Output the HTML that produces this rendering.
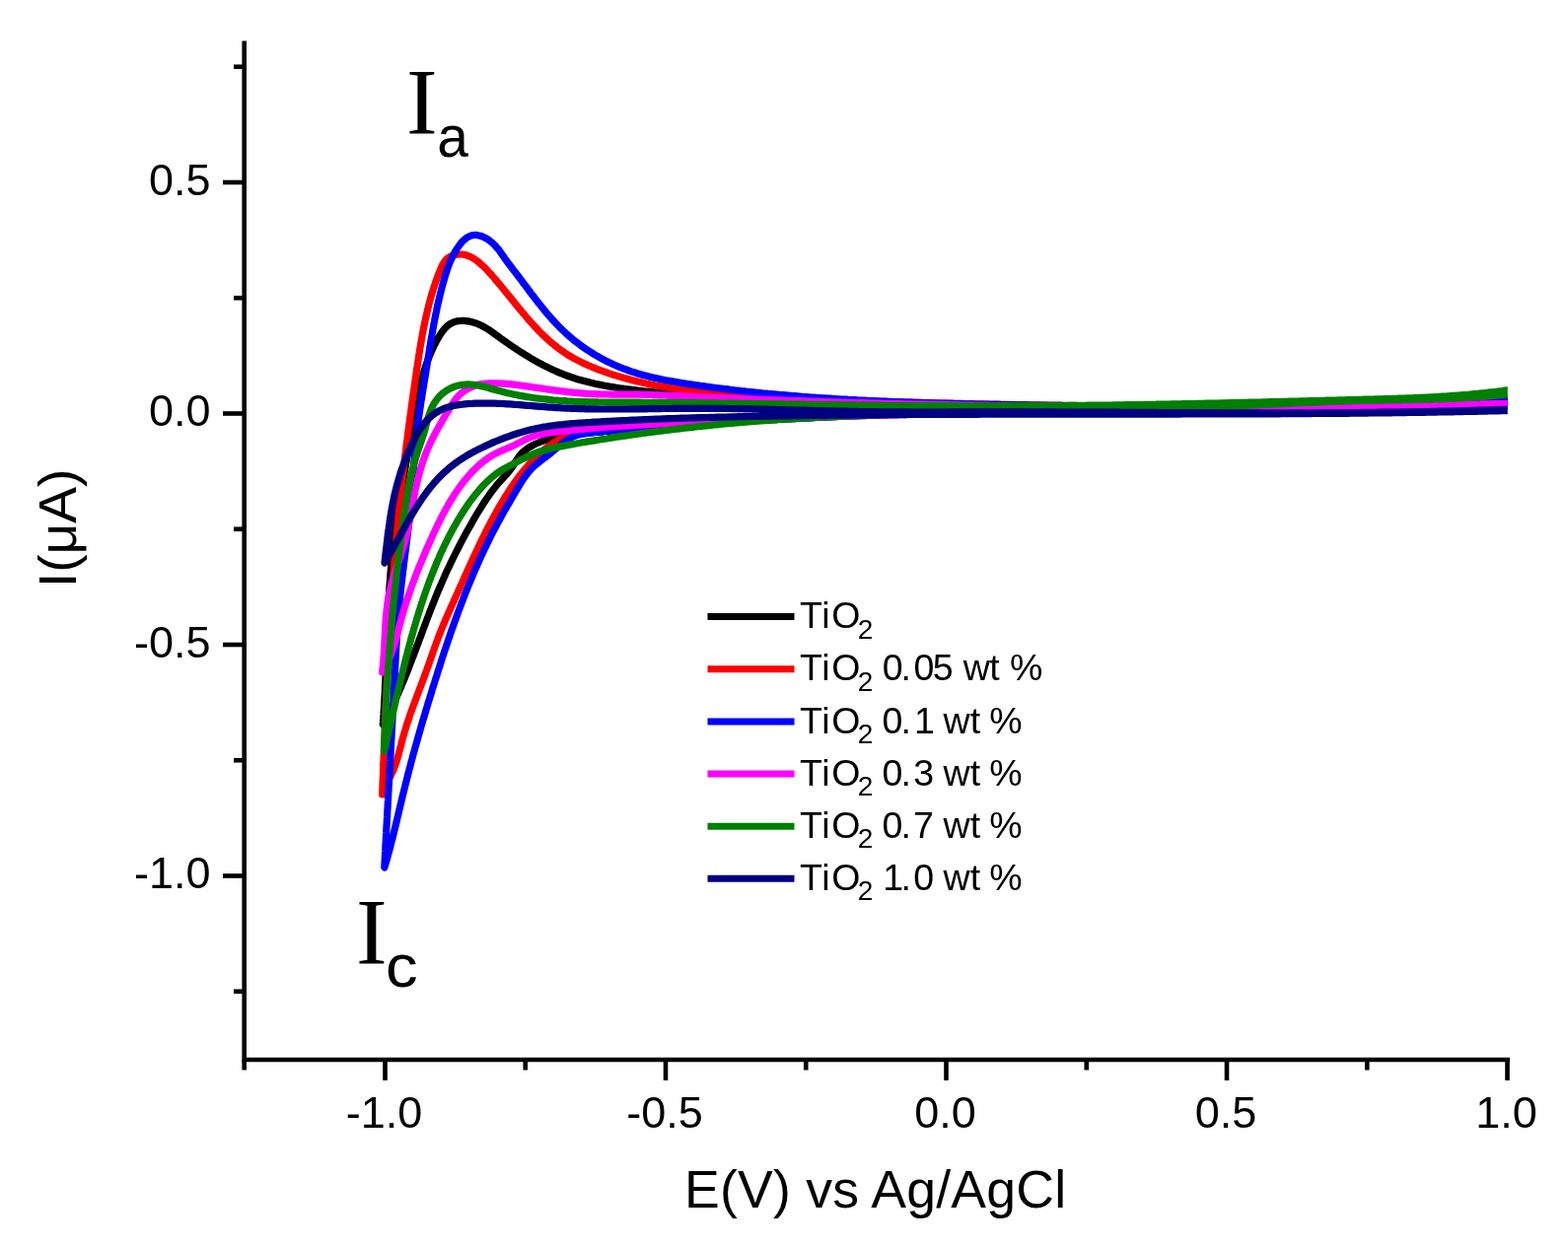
<!DOCTYPE html>
<html><head><meta charset="utf-8"><title>Cyclic voltammetry TiO2</title>
<style>
html,body{margin:0;padding:0;background:#fff;}
body{width:1590px;height:1266px;overflow:hidden;}
svg{display:block;}
text{font-family:"Liberation Sans",Arial,sans-serif;fill:#000;}
.tick text, .tl{font-size:45px;}
.leg{font-size:35.8px;}
.sub{font-size:26px;}
</style></head>
<body>
<svg width="1590" height="1266" viewBox="0 0 1590 1266">
<rect width="1590" height="1266" fill="#fff"/>
<defs><clipPath id="pc"><rect x="0" y="0" width="1528.8" height="1266"/></clipPath></defs>
<g fill="none" stroke-width="7.2" stroke-linejoin="round" stroke-linecap="round" clip-path="url(#pc)">
<path d="M388.2 735.0 L388.4 733.0 L388.5 731.0 L388.7 729.0 L388.8 727.0 L389.0 725.0 L389.1 722.9 L389.2 720.9 L389.4 718.9 L389.5 716.9 L389.6 714.9 L389.7 712.9 L389.8 710.9 L389.9 708.9 L390.0 706.9 L390.2 704.9 L390.3 702.8 L390.4 700.8 L390.4 698.8 L390.5 696.8 L390.6 694.8 L390.7 692.8 L390.8 690.8 L390.9 688.7 L391.0 686.7 L391.1 684.7 L391.1 682.7 L391.2 680.7 L391.3 678.7 L391.4 676.7 L391.4 674.6 L391.5 672.6 L391.6 670.6 L391.7 668.6 L391.7 666.6 L391.8 664.6 L391.9 662.6 L391.9 660.5 L392.0 658.5 L392.1 656.5 L392.1 654.5 L392.2 652.5 L392.3 650.5 L392.4 648.5 L392.4 646.4 L392.5 644.4 L392.6 642.4 L392.7 640.4 L392.7 638.4 L392.8 636.4 L392.9 634.4 L393.0 632.3 L393.1 630.3 L393.1 628.3 L393.2 626.3 L393.3 624.3 L393.4 622.3 L393.5 620.3 L393.6 618.3 L393.7 616.2 L393.8 614.2 L393.9 612.2 L394.0 610.2 L394.1 608.2 L394.2 606.2 L394.4 604.2 L394.5 602.2 L394.6 600.2 L394.7 598.2 L394.9 596.1 L395.0 594.1 L395.2 592.1 L395.3 590.1 L395.5 588.1 L395.6 586.1 L395.8 584.1 L395.9 582.1 L396.1 580.1 L396.3 578.1 L396.5 576.1 L396.7 574.1 L396.9 572.1 L397.1 570.1 L397.3 568.1 L397.5 566.1 L397.7 564.1 L397.9 562.1 L398.1 560.1 L398.4 558.1 L398.6 556.1 L398.8 554.1 L399.1 552.1 L399.3 550.1 L399.6 548.1 L399.8 546.1 L400.1 544.1 L400.4 542.1 L400.6 540.1 L400.9 538.1 L401.2 536.1 L401.5 534.1 L401.7 532.1 L402.0 530.1 L402.3 528.1 L402.6 526.1 L402.9 524.1 L403.2 522.1 L403.5 520.1 L403.8 518.1 L404.1 516.1 L404.4 514.1 L404.7 512.2 L405.1 510.2 L405.4 508.2 L405.7 506.2 L406.0 504.2 L406.3 502.2 L406.7 500.2 L407.0 498.2 L407.3 496.2 L407.6 494.2 L408.0 492.2 L408.3 490.3 L408.6 488.3 L409.0 486.3 L409.3 484.3 L409.6 482.3 L410.0 480.3 L410.3 478.3 L410.7 476.3 L411.0 474.3 L411.3 472.4 L411.7 470.4 L412.0 468.4 L412.3 466.4 L412.7 464.4 L413.0 462.4 L413.4 460.4 L413.7 458.4 L414.0 456.5 L414.4 454.5 L414.7 452.5 L415.0 450.5 L415.4 448.5 L415.7 446.5 L416.0 444.5 L416.4 442.6 L416.7 440.6 L417.0 438.6 L417.3 436.6 L417.7 434.6 L418.0 432.6 L418.3 430.6 L418.6 428.7 L419.0 426.7 L419.3 424.7 L419.6 422.7 L420.0 420.7 L420.3 418.7 L420.7 416.8 L421.0 414.8 L421.4 412.8 L421.7 410.8 L422.1 408.9 L422.5 406.9 L422.9 404.9 L423.3 403.0 L423.7 401.0 L424.1 399.1 L424.6 397.1 L425.0 395.1 L425.5 393.2 L425.9 391.2 L426.4 389.3 L426.9 387.4 L427.4 385.4 L427.9 383.5 L428.5 381.6 L429.0 379.6 L429.6 377.7 L430.2 375.8 L430.8 373.9 L431.5 372.0 L432.1 370.1 L432.8 368.2 L433.5 366.3 L434.2 364.4 L434.9 362.5 L435.7 360.6 L436.5 358.8 L437.3 356.9 L438.1 355.0 L438.9 353.2 L439.8 351.3 L440.7 349.5 L441.7 347.7 L442.6 345.9 L443.6 344.1 L444.7 342.3 L445.7 340.6 L446.8 338.9 L447.9 337.2 L449.1 335.6 L451.0 333.3 L453.0 331.2 L455.3 329.4 L457.7 327.9 L460.2 326.7 L463.0 325.9 L465.8 325.5 L468.8 325.3 L470.8 325.4 L472.8 325.6 L474.9 325.9 L476.9 326.3 L478.9 326.8 L481.0 327.4 L483.0 328.0 L484.9 328.8 L486.9 329.6 L488.7 330.5 L490.5 331.5 L492.3 332.5 L494.0 333.5 L495.7 334.6 L498.2 336.3 L500.6 338.0 L503.0 339.8 L505.4 341.5 L507.9 343.3 L509.5 344.5 L511.1 345.6 L512.8 346.8 L514.4 347.9 L516.1 349.1 L517.7 350.2 L519.4 351.4 L521.0 352.5 L522.7 353.6 L524.4 354.7 L526.1 355.8 L527.8 356.9 L529.5 358.0 L531.2 359.1 L532.9 360.1 L534.6 361.2 L536.4 362.2 L538.1 363.3 L539.9 364.3 L541.6 365.3 L543.4 366.3 L545.1 367.3 L546.9 368.3 L548.7 369.2 L550.5 370.2 L552.3 371.1 L554.1 372.0 L555.9 372.9 L557.7 373.8 L559.5 374.6 L561.3 375.5 L563.2 376.3 L565.0 377.1 L566.8 377.9 L568.7 378.7 L570.6 379.4 L572.4 380.1 L574.3 380.8 L576.2 381.5 L578.1 382.2 L580.0 382.8 L581.9 383.5 L583.8 384.1 L585.7 384.7 L587.6 385.2 L589.6 385.8 L591.5 386.3 L593.4 386.8 L595.4 387.3 L597.3 387.8 L599.3 388.3 L601.2 388.7 L603.2 389.2 L605.2 389.6 L607.1 390.0 L609.1 390.4 L611.1 390.8 L613.1 391.2 L615.1 391.5 L617.0 391.9 L619.0 392.2 L621.0 392.5 L623.0 392.9 L625.0 393.2 L627.0 393.5 L629.0 393.8 L631.0 394.0 L633.0 394.3 L635.0 394.6 L637.0 394.8 L639.0 395.1 L641.0 395.4 L643.0 395.6 L645.0 395.8 L647.0 396.1 L649.0 396.3 L651.1 396.5 L653.1 396.8 L655.1 397.0 L657.1 397.2 L659.1 397.4 L661.1 397.6 L663.1 397.8 L665.1 398.0 L667.1 398.2 L669.1 398.4 L671.1 398.6 L673.1 398.7 L675.1 398.9 L677.1 399.1 L679.1 399.3 L681.1 399.4 L683.2 399.6 L685.2 399.8 L687.2 399.9 L689.2 400.1 L691.2 400.2 L693.2 400.4 L695.2 400.5 L697.2 400.7 L699.2 400.8 L701.2 401.0 L703.2 401.1 L705.2 401.3 L707.3 401.4 L709.3 401.5 L711.3 401.7 L713.3 401.8 L715.3 401.9 L717.3 402.1 L719.3 402.2 L721.3 402.3 L723.3 402.5 L725.3 402.6 L727.3 402.7 L729.4 402.8 L731.4 403.0 L733.4 403.1 L735.4 403.2 L737.4 403.3 L739.4 403.5 L741.4 403.6 L743.4 403.7 L745.4 403.8 L747.4 403.9 L749.5 404.0 L751.5 404.2 L753.5 404.3 L755.5 404.4 L757.5 404.5 L759.5 404.6 L761.5 404.7 L763.5 404.8 L765.5 404.9 L767.5 405.0 L769.6 405.1 L771.6 405.2 L773.6 405.3 L775.6 405.4 L777.6 405.5 L779.6 405.6 L781.6 405.7 L783.6 405.8 L785.6 405.9 L787.7 406.0 L789.7 406.1 L791.7 406.2 L793.7 406.3 L795.7 406.4 L797.7 406.5 L799.7 406.5 L801.7 406.6 L803.8 406.7 L805.8 406.8 L807.8 406.9 L809.8 407.0 L811.8 407.1 L813.8 407.1 L815.8 407.2 L817.8 407.3 L819.9 407.4 L821.9 407.4 L823.9 407.5 L825.9 407.6 L827.9 407.7 L829.9 407.7 L831.9 407.8 L833.9 407.9 L836.0 408.0 L838.0 408.0 L840.0 408.1 L842.0 408.2 L844.0 408.2 L846.0 408.3 L848.0 408.4 L850.0 408.4 L852.1 408.5 L854.1 408.6 L856.1 408.6 L858.1 408.7 L860.1 408.7 L862.1 408.8 L864.1 408.9 L866.1 408.9 L868.2 409.0 L870.2 409.0 L872.2 409.1 L874.2 409.1 L876.2 409.2 L878.2 409.2 L880.2 409.3 L882.3 409.3 L884.3 409.4 L886.3 409.4 L888.3 409.5 L890.3 409.5 L892.3 409.6 L894.3 409.6 L896.4 409.7 L898.4 409.7 L900.4 409.8 L902.4 409.8 L904.4 409.9 L906.4 409.9 L908.4 409.9 L910.5 410.0 L912.5 410.0 L914.5 410.1 L916.5 410.1 L918.5 410.1 L920.5 410.2 L922.5 410.2 L924.6 410.3 L926.6 410.3 L928.6 410.3 L930.6 410.4 L932.6 410.4 L934.6 410.4 L936.6 410.5 L938.7 410.5 L940.7 410.5 L942.7 410.6 L944.7 410.6 L946.7 410.6 L948.7 410.7 L950.7 410.7 L952.8 410.7 L954.8 410.7 L956.8 410.8 L958.8 410.8 L960.8 410.8 L962.8 410.8 L964.9 410.9 L966.9 410.9 L968.9 410.9 L970.9 410.9 L972.9 411.0 L974.9 411.0 L976.9 411.0 L979.0 411.0 L981.0 411.1 L983.0 411.1 L985.0 411.1 L987.0 411.1 L989.0 411.1 L991.0 411.2 L993.1 411.2 L995.1 411.2 L997.1 411.2 L999.1 411.2 L1001.1 411.2 L1003.1 411.3 L1005.2 411.3 L1007.2 411.3 L1009.2 411.3 L1011.2 411.3 L1013.2 411.3 L1015.2 411.4 L1017.3 411.4 L1019.3 411.4 L1021.3 411.4 L1023.3 411.4 L1025.3 411.4 L1027.3 411.4 L1029.3 411.4 L1031.4 411.4 L1033.4 411.5 L1035.4 411.5 L1037.4 411.5 L1039.4 411.5 L1041.4 411.5 L1043.5 411.5 L1045.5 411.5 L1047.5 411.5 L1049.5 411.5 L1051.5 411.5 L1053.5 411.6 L1055.5 411.6 L1057.6 411.6 L1059.6 411.6 L1061.6 411.6 L1063.6 411.6 L1065.6 411.6 L1067.6 411.6 L1069.7 411.6 L1071.7 411.6 L1073.7 411.6 L1075.7 411.6 L1077.7 411.6 L1079.7 411.6 L1081.8 411.6 L1083.8 411.6 L1085.8 411.6 L1087.8 411.6 L1089.8 411.7 L1091.8 411.7 L1093.8 411.7 L1095.9 411.7 L1097.9 411.7 L1099.9 411.7 L1101.9 411.7 L1103.9 411.7 L1105.9 411.7 L1108.0 411.7 L1110.0 411.7 L1112.0 411.7 L1114.0 411.7 L1116.0 411.7 L1118.0 411.7 L1120.0 411.7 L1122.1 411.7 L1124.1 411.7 L1126.1 411.7 L1128.1 411.7 L1130.1 411.7 L1132.1 411.7 L1134.2 411.7 L1136.2 411.7 L1138.2 411.7 L1140.2 411.7 L1142.2 411.7 L1144.2 411.7 L1146.3 411.7 L1148.3 411.7 L1150.3 411.7 L1152.3 411.7 L1154.3 411.7 L1156.3 411.7 L1158.3 411.7 L1160.4 411.7 L1162.4 411.7 L1164.4 411.7 L1166.4 411.7 L1168.4 411.7 L1170.4 411.7 L1172.5 411.7 L1174.5 411.7 L1176.5 411.7 L1178.5 411.7 L1180.5 411.8 L1182.5 411.8 L1184.5 411.8 L1186.6 411.8 L1188.6 411.8 L1190.6 411.8 L1192.6 411.8 L1194.6 411.8 L1196.6 411.8 L1198.6 411.8 L1200.7 411.8 L1202.7 411.8 L1204.7 411.8 L1206.7 411.8 L1208.7 411.8 L1210.7 411.8 L1212.8 411.8 L1214.8 411.8 L1216.8 411.8 L1218.8 411.8 L1220.8 411.8 L1222.8 411.8 L1224.8 411.8 L1226.9 411.8 L1228.9 411.8 L1230.9 411.9 L1232.9 411.9 L1234.9 411.9 L1236.9 411.9 L1238.9 411.9 L1241.0 411.9 L1243.0 411.9 L1245.0 411.9 L1247.0 411.9 L1249.0 411.9 L1251.0 411.9 L1253.0 411.9 L1255.1 411.9 L1257.1 411.9 L1259.1 411.9 L1261.1 411.9 L1263.1 411.9 L1265.1 411.9 L1267.1 411.9 L1269.2 411.9 L1271.2 412.0 L1273.2 412.0 L1275.2 412.0 L1277.2 412.0 L1279.2 412.0 L1281.2 412.0 L1283.3 412.0 L1285.3 412.0 L1287.3 412.0 L1289.3 412.0 L1291.3 412.0 L1293.3 412.0 L1295.3 412.0 L1297.4 412.0 L1299.4 412.0 L1301.4 412.0 L1303.4 412.0 L1305.4 412.0 L1307.4 412.0 L1309.4 412.0 L1311.4 412.0 L1313.5 412.0 L1315.5 412.0 L1317.5 412.0 L1319.5 412.0 L1321.5 412.0 L1323.5 412.0 L1325.5 412.0 L1327.6 412.0 L1329.6 412.0 L1331.6 412.0 L1333.6 412.0 L1335.6 412.0 L1337.6 412.0 L1339.6 412.0 L1341.7 412.0 L1343.7 412.0 L1345.7 411.9 L1347.7 411.9 L1349.7 411.9 L1351.7 411.9 L1353.7 411.9 L1355.8 411.9 L1357.8 411.9 L1359.8 411.9 L1361.8 411.9 L1363.8 411.9 L1365.8 411.9 L1367.8 411.9 L1369.9 411.8 L1371.9 411.8 L1373.9 411.8 L1375.9 411.8 L1377.9 411.8 L1379.9 411.8 L1381.9 411.8 L1383.9 411.7 L1386.0 411.7 L1388.0 411.7 L1390.0 411.7 L1392.0 411.7 L1394.0 411.7 L1396.0 411.6 L1398.0 411.6 L1400.1 411.6 L1402.1 411.6 L1404.1 411.6 L1406.1 411.5 L1408.1 411.5 L1410.1 411.5 L1412.1 411.5 L1414.2 411.4 L1416.2 411.4 L1418.2 411.4 L1420.2 411.4 L1422.2 411.3 L1424.2 411.3 L1426.2 411.3 L1428.3 411.2 L1430.3 411.2 L1432.3 411.2 L1434.3 411.1 L1436.3 411.1 L1438.3 411.1 L1440.3 411.0 L1442.4 411.0 L1444.4 411.0 L1446.4 410.9 L1448.4 410.9 L1450.4 410.9 L1452.4 410.8 L1454.4 410.8 L1456.5 410.7 L1458.5 410.7 L1460.5 410.6 L1462.5 410.6 L1464.5 410.6 L1466.5 410.5 L1468.5 410.5 L1470.6 410.4 L1472.6 410.4 L1474.6 410.3 L1476.6 410.3 L1478.6 410.2 L1480.6 410.2 L1482.6 410.1 L1484.7 410.0 L1486.7 410.0 L1488.7 409.9 L1490.7 409.9 L1492.7 409.8 L1494.7 409.8 L1496.7 409.7 L1498.8 409.6 L1500.8 409.6 L1502.8 409.5 L1504.8 409.4 L1506.8 409.4 L1508.8 409.3 L1510.8 409.2 L1512.9 409.2 L1514.9 409.1 L1516.9 409.0 L1518.9 409.0 L1520.9 408.9 L1522.9 408.8 L1525.0 408.7 L1527.0 408.7 L1529.0 408.6 L1531.0 408.5 L1531.0 408.5 L1531.0 411.0 L1528.4 411.1 L1525.7 411.1 L1523.1 411.2 L1520.4 411.2 L1517.8 411.3 L1515.2 411.3 L1512.5 411.4 L1509.9 411.5 L1507.3 411.5 L1504.6 411.6 L1502.0 411.6 L1499.3 411.7 L1496.7 411.7 L1494.1 411.8 L1491.4 411.9 L1488.8 411.9 L1486.2 412.0 L1483.5 412.0 L1480.9 412.1 L1478.2 412.2 L1475.6 412.2 L1473.0 412.3 L1470.3 412.4 L1467.7 412.4 L1465.1 412.5 L1462.4 412.5 L1459.8 412.6 L1457.1 412.7 L1454.5 412.7 L1451.9 412.8 L1449.2 412.9 L1446.6 412.9 L1444.0 413.0 L1441.3 413.1 L1438.7 413.1 L1436.0 413.2 L1433.4 413.3 L1430.8 413.3 L1428.1 413.4 L1425.5 413.4 L1422.9 413.5 L1420.2 413.6 L1417.6 413.6 L1414.9 413.7 L1412.3 413.8 L1409.7 413.8 L1407.0 413.9 L1404.4 414.0 L1401.8 414.0 L1399.1 414.1 L1396.5 414.2 L1393.8 414.2 L1391.2 414.3 L1388.6 414.3 L1385.9 414.4 L1383.3 414.5 L1380.7 414.5 L1378.0 414.6 L1375.4 414.7 L1372.8 414.7 L1370.1 414.8 L1367.5 414.9 L1364.8 414.9 L1362.2 415.0 L1359.6 415.0 L1356.9 415.1 L1354.3 415.2 L1351.7 415.2 L1349.0 415.3 L1346.4 415.3 L1343.7 415.4 L1341.1 415.5 L1338.5 415.5 L1335.8 415.6 L1333.2 415.6 L1330.6 415.7 L1327.9 415.8 L1325.3 415.8 L1322.7 415.9 L1320.0 415.9 L1317.4 416.0 L1314.7 416.0 L1312.1 416.1 L1309.5 416.1 L1306.8 416.2 L1304.2 416.3 L1301.6 416.3 L1298.9 416.4 L1296.3 416.4 L1293.6 416.5 L1291.0 416.5 L1288.4 416.6 L1285.7 416.6 L1283.1 416.7 L1280.5 416.7 L1277.8 416.8 L1275.2 416.8 L1272.5 416.9 L1269.9 416.9 L1267.3 416.9 L1264.6 417.0 L1262.0 417.0 L1259.4 417.1 L1256.7 417.1 L1254.1 417.2 L1251.4 417.2 L1248.8 417.2 L1246.2 417.3 L1243.5 417.3 L1240.9 417.4 L1238.3 417.4 L1235.6 417.4 L1233.0 417.5 L1230.3 417.5 L1227.7 417.5 L1225.1 417.6 L1222.4 417.6 L1219.8 417.6 L1217.2 417.7 L1214.5 417.7 L1211.9 417.7 L1209.2 417.8 L1206.6 417.8 L1204.0 417.8 L1201.3 417.8 L1198.7 417.9 L1196.0 417.9 L1193.4 417.9 L1190.8 417.9 L1188.1 417.9 L1185.5 418.0 L1182.9 418.0 L1180.2 418.0 L1177.6 418.0 L1174.9 418.0 L1172.3 418.1 L1169.7 418.1 L1167.0 418.1 L1164.4 418.1 L1161.7 418.1 L1159.1 418.1 L1156.5 418.1 L1153.8 418.1 L1151.2 418.2 L1148.5 418.2 L1145.9 418.2 L1143.3 418.2 L1140.6 418.2 L1138.0 418.2 L1135.3 418.2 L1132.7 418.2 L1130.1 418.2 L1127.4 418.2 L1124.8 418.2 L1122.1 418.2 L1119.5 418.3 L1116.9 418.3 L1114.2 418.3 L1111.6 418.3 L1109.0 418.3 L1106.3 418.3 L1103.7 418.3 L1101.0 418.3 L1098.4 418.3 L1095.8 418.3 L1093.1 418.3 L1090.5 418.3 L1087.8 418.3 L1085.2 418.3 L1082.6 418.3 L1079.9 418.3 L1077.3 418.3 L1074.6 418.4 L1072.0 418.4 L1069.4 418.4 L1066.7 418.4 L1064.1 418.4 L1061.4 418.4 L1058.8 418.4 L1056.2 418.4 L1053.5 418.4 L1050.9 418.4 L1048.2 418.4 L1045.6 418.5 L1043.0 418.5 L1040.3 418.5 L1037.7 418.5 L1035.0 418.5 L1032.4 418.5 L1029.8 418.5 L1027.1 418.5 L1024.5 418.6 L1021.9 418.6 L1019.2 418.6 L1016.6 418.6 L1013.9 418.6 L1011.3 418.6 L1008.7 418.7 L1006.0 418.7 L1003.4 418.7 L1000.7 418.7 L998.1 418.8 L995.5 418.8 L992.8 418.8 L990.2 418.8 L987.6 418.9 L984.9 418.9 L982.3 418.9 L979.6 418.9 L977.0 419.0 L974.4 419.0 L971.7 419.0 L969.1 419.1 L966.5 419.1 L963.8 419.2 L961.2 419.2 L958.5 419.2 L955.9 419.3 L953.3 419.3 L950.6 419.4 L948.0 419.4 L945.4 419.5 L942.7 419.5 L940.1 419.6 L937.4 419.6 L934.8 419.7 L932.2 419.7 L929.5 419.8 L926.9 419.8 L924.3 419.9 L921.6 420.0 L919.0 420.0 L916.4 420.1 L913.7 420.2 L911.1 420.2 L908.4 420.3 L905.8 420.4 L903.2 420.4 L900.5 420.5 L897.9 420.6 L895.3 420.7 L892.6 420.8 L890.0 420.8 L887.4 420.9 L884.7 421.0 L882.1 421.1 L879.5 421.2 L876.8 421.3 L874.2 421.4 L871.6 421.5 L868.9 421.6 L866.3 421.7 L863.7 421.8 L861.0 421.9 L858.4 422.0 L855.8 422.1 L853.1 422.2 L850.5 422.4 L847.9 422.5 L845.2 422.6 L842.6 422.7 L840.0 422.8 L837.3 423.0 L834.7 423.1 L832.1 423.2 L829.4 423.3 L826.8 423.5 L824.2 423.6 L821.5 423.7 L818.9 423.9 L816.3 424.0 L813.6 424.1 L811.0 424.3 L808.4 424.4 L805.7 424.6 L803.1 424.7 L800.5 424.8 L797.8 425.0 L795.2 425.1 L792.6 425.3 L789.9 425.4 L787.3 425.6 L784.7 425.7 L782.0 425.9 L779.4 426.1 L776.8 426.2 L774.1 426.4 L771.5 426.5 L768.9 426.7 L766.2 426.9 L763.6 427.0 L761.0 427.2 L758.3 427.3 L755.7 427.5 L753.1 427.7 L750.4 427.9 L747.8 428.0 L745.2 428.2 L742.5 428.4 L739.9 428.5 L737.3 428.7 L734.6 428.9 L732.0 429.1 L729.4 429.2 L726.7 429.4 L724.1 429.6 L721.5 429.8 L718.8 429.9 L716.2 430.1 L713.6 430.3 L710.9 430.5 L708.3 430.7 L705.7 430.8 L703.0 431.0 L700.4 431.2 L697.8 431.4 L695.1 431.6 L692.5 431.8 L689.9 431.9 L687.2 432.1 L684.6 432.3 L682.0 432.5 L679.3 432.7 L676.7 432.9 L674.1 433.1 L671.4 433.3 L668.8 433.4 L666.2 433.6 L663.5 433.8 L660.9 434.0 L658.2 434.2 L655.6 434.4 L653.0 434.6 L650.3 434.8 L647.7 435.0 L645.1 435.1 L642.4 435.3 L639.8 435.5 L637.2 435.7 L634.5 435.9 L631.9 436.1 L629.2 436.3 L626.6 436.5 L624.0 436.7 L621.3 436.9 L618.7 437.1 L616.1 437.3 L613.4 437.5 L610.8 437.8 L608.2 438.0 L605.6 438.3 L602.9 438.5 L600.3 438.8 L597.7 439.1 L595.1 439.3 L592.5 439.6 L589.9 440.0 L587.3 440.3 L584.7 440.6 L582.1 441.0 L579.5 441.3 L576.9 441.7 L574.3 442.1 L571.7 442.6 L569.2 443.0 L566.6 443.5 L564.1 443.9 L561.5 444.5 L558.9 445.0 L556.4 445.7 L553.8 446.3 L551.2 447.1 L548.7 448.0 L546.2 449.0 L543.7 450.0 L541.2 451.2 L538.9 452.5 L536.6 453.8 L534.4 455.3 L532.3 456.9 L530.3 458.6 L528.5 460.4 L526.8 462.4 L525.3 464.5 L523.8 466.6 L522.4 468.8 L521.1 471.0 L519.7 473.3 L518.2 475.4 L516.7 477.5 L515.0 479.6 L513.2 481.6 L511.4 483.5 L509.6 485.5 L507.8 487.4 L506.1 489.4 L504.3 491.4 L502.7 493.5 L501.0 495.5 L499.4 497.6 L497.8 499.7 L496.3 501.8 L494.8 504.0 L493.3 506.2 L491.8 508.3 L490.4 510.5 L489.0 512.8 L487.6 515.0 L486.2 517.2 L484.8 519.5 L483.5 521.7 L482.1 524.0 L480.8 526.3 L479.5 528.6 L478.2 530.9 L476.9 533.1 L475.6 535.4 L474.3 537.8 L473.0 540.1 L471.7 542.4 L470.5 544.7 L469.2 547.0 L468.0 549.4 L466.8 551.7 L465.6 554.0 L464.4 556.4 L463.2 558.7 L462.0 561.1 L460.8 563.5 L459.6 565.8 L458.5 568.2 L457.3 570.6 L456.2 573.0 L455.1 575.4 L453.9 577.7 L452.8 580.1 L451.7 582.5 L450.7 584.9 L449.6 587.4 L448.5 589.8 L447.5 592.2 L446.4 594.6 L445.4 597.0 L444.3 599.5 L443.3 601.9 L442.3 604.4 L441.3 606.8 L440.3 609.3 L439.4 611.7 L438.4 614.2 L437.4 616.6 L436.5 619.1 L435.5 621.5 L434.6 624.0 L433.6 626.5 L432.7 628.9 L431.8 631.4 L430.9 633.9 L429.9 636.4 L429.0 638.8 L428.1 641.3 L427.2 643.8 L426.3 646.2 L425.3 648.7 L424.4 651.2 L423.5 653.7 L422.6 656.1 L421.7 658.6 L420.7 661.1 L419.8 663.6 L418.9 666.0 L417.9 668.5 L417.0 670.9 L416.0 673.4 L415.1 675.9 L414.1 678.3 L413.2 680.8 L412.2 683.2 L411.2 685.7 L410.2 688.1 L409.2 690.5 L408.2 693.0 L407.2 695.4 L406.2 697.8 L405.1 700.2 L404.1 702.7 L403.0 705.1 L401.9 707.5 L400.8 709.9 L399.7 712.3 L398.6 714.6 L397.5 717.0 L396.3 719.4 L395.2 721.7 L394.0 724.1 L392.8 726.5 L391.5 728.8 L390.3 731.1 L389.0 733.5 L388.2 735.0 Z" stroke="#000000"/>
<path d="M387.6 806.0 L387.7 803.8 L387.8 801.5 L387.9 799.3 L387.9 797.1 L388.0 794.8 L388.1 792.6 L388.2 790.3 L388.3 788.1 L388.4 785.9 L388.5 783.6 L388.5 781.4 L388.6 779.2 L388.7 776.9 L388.8 774.7 L388.9 772.5 L389.0 770.2 L389.1 768.0 L389.2 765.7 L389.3 763.5 L389.3 761.3 L389.4 759.0 L389.5 756.8 L389.6 754.6 L389.7 752.3 L389.8 750.1 L389.9 747.8 L390.0 745.6 L390.1 743.4 L390.2 741.1 L390.3 738.9 L390.4 736.7 L390.5 734.4 L390.5 732.2 L390.6 729.9 L390.7 727.7 L390.8 725.5 L390.9 723.2 L391.0 721.0 L391.1 718.8 L391.2 716.5 L391.3 714.3 L391.4 712.0 L391.5 709.8 L391.6 707.6 L391.7 705.3 L391.8 703.1 L392.0 700.9 L392.1 698.6 L392.2 696.4 L392.3 694.1 L392.4 691.9 L392.5 689.7 L392.6 687.4 L392.7 685.2 L392.8 683.0 L392.9 680.7 L393.0 678.5 L393.2 676.2 L393.3 674.0 L393.4 671.8 L393.5 669.5 L393.6 667.3 L393.7 665.1 L393.9 662.8 L394.0 660.6 L394.1 658.3 L394.2 656.1 L394.4 653.9 L394.5 651.6 L394.6 649.4 L394.7 647.2 L394.9 644.9 L395.0 642.7 L395.1 640.5 L395.3 638.2 L395.4 636.0 L395.5 633.8 L395.7 631.5 L395.8 629.3 L395.9 627.0 L396.1 624.8 L396.2 622.6 L396.4 620.3 L396.5 618.1 L396.7 615.9 L396.8 613.6 L397.0 611.4 L397.1 609.2 L397.3 606.9 L397.4 604.7 L397.6 602.5 L397.7 600.2 L397.9 598.0 L398.0 595.8 L398.2 593.5 L398.4 591.3 L398.5 589.1 L398.7 586.8 L398.8 584.6 L399.0 582.4 L399.2 580.1 L399.4 577.9 L399.5 575.7 L399.7 573.4 L399.9 571.2 L400.1 569.0 L400.2 566.7 L400.4 564.5 L400.6 562.3 L400.8 560.0 L401.0 557.8 L401.2 555.6 L401.3 553.4 L401.5 551.1 L401.7 548.9 L401.9 546.7 L402.1 544.4 L402.3 542.2 L402.5 540.0 L402.7 537.7 L402.9 535.5 L403.1 533.3 L403.3 531.1 L403.6 528.8 L403.8 526.6 L404.0 524.4 L404.2 522.1 L404.4 519.9 L404.6 517.7 L404.9 515.5 L405.1 513.2 L405.3 511.0 L405.5 508.8 L405.8 506.6 L406.0 504.3 L406.2 502.1 L406.5 499.9 L406.7 497.7 L407.0 495.4 L407.2 493.2 L407.4 491.0 L407.7 488.8 L407.9 486.5 L408.2 484.3 L408.5 482.1 L408.7 479.9 L409.0 477.6 L409.2 475.4 L409.5 473.2 L409.8 471.0 L410.0 468.8 L410.3 466.5 L410.6 464.3 L410.8 462.1 L411.1 459.9 L411.4 457.6 L411.7 455.4 L411.9 453.2 L412.2 451.0 L412.5 448.8 L412.8 446.5 L413.1 444.3 L413.3 442.1 L413.6 439.9 L413.9 437.7 L414.2 435.4 L414.5 433.2 L414.8 431.0 L415.1 428.8 L415.4 426.6 L415.7 424.3 L416.0 422.1 L416.3 419.9 L416.6 417.7 L416.9 415.5 L417.2 413.3 L417.5 411.0 L417.8 408.8 L418.1 406.6 L418.4 404.4 L418.7 402.2 L419.0 399.9 L419.4 397.7 L419.7 395.5 L420.0 393.3 L420.3 391.1 L420.6 388.9 L420.9 386.6 L421.2 384.4 L421.6 382.2 L421.9 380.0 L422.2 377.8 L422.5 375.5 L422.8 373.3 L423.2 371.1 L423.5 368.9 L423.8 366.7 L424.2 364.5 L424.5 362.2 L424.8 360.0 L425.2 357.8 L425.5 355.6 L425.9 353.4 L426.3 351.2 L426.6 349.0 L427.0 346.8 L427.4 344.6 L427.8 342.3 L428.2 340.1 L428.6 337.9 L429.0 335.7 L429.4 333.5 L429.8 331.4 L430.3 329.2 L430.7 327.0 L431.2 324.8 L431.7 322.6 L432.2 320.4 L432.7 318.2 L433.2 316.0 L433.7 313.9 L434.2 311.7 L434.8 309.5 L435.3 307.4 L435.9 305.2 L436.5 303.0 L437.1 300.9 L437.7 298.7 L438.4 296.6 L439.0 294.4 L439.7 292.3 L440.4 290.2 L441.1 288.0 L441.8 285.9 L442.6 283.8 L443.3 281.6 L444.1 279.5 L444.9 277.4 L445.8 275.3 L446.6 273.2 L447.5 271.1 L448.4 269.1 L449.5 267.2 L450.7 265.4 L452.0 263.7 L453.5 262.2 L455.3 261.0 L457.2 259.9 L459.2 259.1 L461.4 258.5 L463.6 258.1 L465.9 258.0 L468.2 258.0 L470.4 258.3 L472.6 258.8 L474.7 259.5 L476.8 260.4 L478.8 261.4 L480.8 262.6 L482.7 263.9 L484.6 265.2 L486.3 266.7 L488.0 268.2 L489.7 269.7 L491.3 271.3 L492.8 272.8 L494.3 274.4 L495.8 276.1 L497.3 277.7 L498.8 279.4 L500.2 281.0 L501.7 282.7 L503.1 284.4 L504.5 286.1 L506.0 287.8 L507.4 289.5 L508.8 291.2 L510.3 293.0 L511.7 294.7 L513.1 296.5 L514.5 298.2 L515.9 300.0 L517.4 301.7 L518.8 303.5 L520.2 305.3 L521.6 307.0 L523.0 308.8 L524.5 310.5 L525.9 312.3 L527.4 314.0 L528.8 315.8 L530.2 317.5 L531.7 319.2 L533.2 321.0 L534.6 322.7 L536.1 324.4 L537.6 326.1 L539.1 327.8 L540.6 329.4 L542.1 331.1 L543.7 332.7 L545.2 334.4 L546.8 336.0 L548.3 337.6 L549.9 339.1 L551.5 340.7 L553.1 342.2 L554.8 343.7 L556.4 345.2 L558.1 346.7 L559.8 348.1 L561.5 349.6 L563.2 350.9 L564.9 352.3 L566.7 353.6 L568.5 355.0 L570.3 356.2 L572.1 357.5 L574.0 358.7 L575.8 359.9 L577.7 361.1 L579.6 362.2 L581.6 363.3 L583.5 364.4 L585.5 365.4 L587.4 366.4 L589.4 367.4 L591.5 368.4 L593.5 369.3 L595.5 370.3 L597.6 371.2 L599.6 372.0 L601.7 372.9 L603.8 373.7 L605.9 374.6 L608.0 375.4 L610.1 376.1 L612.2 376.9 L614.3 377.6 L616.4 378.4 L618.6 379.1 L620.7 379.8 L622.8 380.5 L625.0 381.1 L627.1 381.8 L629.3 382.4 L631.4 383.0 L633.6 383.6 L635.7 384.2 L637.9 384.8 L640.1 385.4 L642.2 385.9 L644.4 386.5 L646.6 387.0 L648.8 387.5 L651.0 388.0 L653.1 388.5 L655.3 389.0 L657.5 389.4 L659.7 389.9 L661.9 390.3 L664.1 390.8 L666.3 391.2 L668.5 391.6 L670.7 392.0 L672.9 392.4 L675.1 392.8 L677.3 393.2 L679.5 393.5 L681.8 393.9 L684.0 394.2 L686.2 394.6 L688.4 394.9 L690.6 395.2 L692.8 395.5 L695.0 395.8 L697.3 396.1 L699.5 396.4 L701.7 396.7 L703.9 397.0 L706.1 397.2 L708.4 397.5 L710.6 397.7 L712.8 398.0 L715.0 398.2 L717.3 398.4 L719.5 398.7 L721.7 398.9 L723.9 399.1 L726.2 399.3 L728.4 399.5 L730.6 399.7 L732.9 399.9 L735.1 400.1 L737.3 400.2 L739.6 400.4 L741.8 400.6 L744.0 400.8 L746.3 400.9 L748.5 401.1 L750.7 401.2 L753.0 401.4 L755.2 401.5 L757.4 401.6 L759.7 401.8 L761.9 401.9 L764.2 402.0 L766.4 402.2 L768.6 402.3 L770.9 402.4 L773.1 402.5 L775.4 402.6 L777.6 402.8 L779.8 402.9 L782.1 403.0 L784.3 403.1 L786.6 403.2 L788.8 403.3 L791.0 403.4 L793.3 403.5 L795.5 403.6 L797.8 403.7 L800.0 403.8 L802.2 403.9 L804.5 404.0 L806.7 404.1 L809.0 404.2 L811.2 404.3 L813.4 404.3 L815.7 404.4 L817.9 404.5 L820.2 404.6 L822.4 404.7 L824.6 404.8 L826.9 404.9 L829.1 405.0 L831.3 405.1 L833.6 405.2 L835.8 405.2 L838.1 405.3 L840.3 405.4 L842.5 405.5 L844.8 405.6 L847.0 405.7 L849.3 405.7 L851.5 405.8 L853.7 405.9 L856.0 406.0 L858.2 406.1 L860.5 406.1 L862.7 406.2 L864.9 406.3 L867.2 406.4 L869.4 406.5 L871.6 406.5 L873.9 406.6 L876.1 406.7 L878.4 406.8 L880.6 406.8 L882.8 406.9 L885.1 407.0 L887.3 407.1 L889.5 407.1 L891.8 407.2 L894.0 407.3 L896.3 407.3 L898.5 407.4 L900.7 407.5 L903.0 407.5 L905.2 407.6 L907.5 407.7 L909.7 407.7 L911.9 407.8 L914.2 407.9 L916.4 407.9 L918.6 408.0 L920.9 408.1 L923.1 408.1 L925.4 408.2 L927.6 408.3 L929.8 408.3 L932.1 408.4 L934.3 408.4 L936.5 408.5 L938.8 408.6 L941.0 408.6 L943.3 408.7 L945.5 408.7 L947.7 408.8 L950.0 408.9 L952.2 408.9 L954.4 409.0 L956.7 409.0 L958.9 409.1 L961.2 409.1 L963.4 409.2 L965.6 409.2 L967.9 409.3 L970.1 409.3 L972.3 409.4 L974.6 409.4 L976.8 409.5 L979.1 409.6 L981.3 409.6 L983.5 409.6 L985.8 409.7 L988.0 409.7 L990.2 409.8 L992.5 409.8 L994.7 409.9 L997.0 409.9 L999.2 410.0 L1001.4 410.0 L1003.7 410.1 L1005.9 410.1 L1008.2 410.2 L1010.4 410.2 L1012.6 410.2 L1014.9 410.3 L1017.1 410.3 L1019.3 410.4 L1021.6 410.4 L1023.8 410.5 L1026.1 410.5 L1028.3 410.5 L1030.5 410.6 L1032.8 410.6 L1035.0 410.6 L1037.3 410.7 L1039.5 410.7 L1041.7 410.8 L1044.0 410.8 L1046.2 410.8 L1048.4 410.9 L1050.7 410.9 L1052.9 410.9 L1055.2 411.0 L1057.4 411.0 L1059.6 411.0 L1061.9 411.1 L1064.1 411.1 L1066.4 411.1 L1068.6 411.2 L1070.8 411.2 L1073.1 411.2 L1075.3 411.2 L1077.5 411.3 L1079.8 411.3 L1082.0 411.3 L1084.3 411.4 L1086.5 411.4 L1088.7 411.4 L1091.0 411.4 L1093.2 411.5 L1095.5 411.5 L1097.7 411.5 L1099.9 411.5 L1102.2 411.6 L1104.4 411.6 L1106.7 411.6 L1108.9 411.6 L1111.1 411.7 L1113.4 411.7 L1115.6 411.7 L1117.9 411.7 L1120.1 411.7 L1122.3 411.8 L1124.6 411.8 L1126.8 411.8 L1129.1 411.8 L1131.3 411.8 L1133.5 411.8 L1135.8 411.9 L1138.0 411.9 L1140.2 411.9 L1142.5 411.9 L1144.7 411.9 L1147.0 411.9 L1149.2 411.9 L1151.4 412.0 L1153.7 412.0 L1155.9 412.0 L1158.2 412.0 L1160.4 412.0 L1162.6 412.0 L1164.9 412.0 L1167.1 412.0 L1169.4 412.1 L1171.6 412.1 L1173.8 412.1 L1176.1 412.1 L1178.3 412.1 L1180.6 412.1 L1182.8 412.1 L1185.0 412.1 L1187.3 412.1 L1189.5 412.1 L1191.8 412.1 L1194.0 412.1 L1196.2 412.1 L1198.5 412.1 L1200.7 412.1 L1203.0 412.1 L1205.2 412.1 L1207.4 412.1 L1209.7 412.1 L1211.9 412.1 L1214.2 412.1 L1216.4 412.1 L1218.6 412.1 L1220.9 412.1 L1223.1 412.1 L1225.4 412.1 L1227.6 412.1 L1229.8 412.1 L1232.1 412.1 L1234.3 412.1 L1236.6 412.1 L1238.8 412.1 L1241.0 412.1 L1243.3 412.1 L1245.5 412.1 L1247.8 412.1 L1250.0 412.1 L1252.2 412.1 L1254.5 412.1 L1256.7 412.1 L1259.0 412.0 L1261.2 412.0 L1263.4 412.0 L1265.7 412.0 L1267.9 412.0 L1270.2 412.0 L1272.4 412.0 L1274.6 412.0 L1276.9 412.0 L1279.1 411.9 L1281.4 411.9 L1283.6 411.9 L1285.8 411.9 L1288.1 411.9 L1290.3 411.9 L1292.6 411.8 L1294.8 411.8 L1297.0 411.8 L1299.3 411.8 L1301.5 411.8 L1303.8 411.8 L1306.0 411.7 L1308.2 411.7 L1310.5 411.7 L1312.7 411.7 L1315.0 411.7 L1317.2 411.6 L1319.4 411.6 L1321.7 411.6 L1323.9 411.6 L1326.1 411.5 L1328.4 411.5 L1330.6 411.5 L1332.9 411.5 L1335.1 411.5 L1337.3 411.4 L1339.6 411.4 L1341.8 411.4 L1344.1 411.3 L1346.3 411.3 L1348.5 411.3 L1350.8 411.3 L1353.0 411.2 L1355.3 411.2 L1357.5 411.2 L1359.7 411.1 L1362.0 411.1 L1364.2 411.1 L1366.5 411.1 L1368.7 411.0 L1370.9 411.0 L1373.2 411.0 L1375.4 410.9 L1377.7 410.9 L1379.9 410.9 L1382.1 410.8 L1384.4 410.8 L1386.6 410.7 L1388.9 410.7 L1391.1 410.7 L1393.3 410.6 L1395.6 410.6 L1397.8 410.6 L1400.1 410.5 L1402.3 410.5 L1404.5 410.4 L1406.8 410.4 L1409.0 410.4 L1411.2 410.3 L1413.5 410.3 L1415.7 410.2 L1418.0 410.2 L1420.2 410.2 L1422.4 410.1 L1424.7 410.1 L1426.9 410.0 L1429.2 410.0 L1431.4 409.9 L1433.6 409.9 L1435.9 409.9 L1438.1 409.8 L1440.4 409.8 L1442.6 409.7 L1444.8 409.7 L1447.1 409.6 L1449.3 409.6 L1451.5 409.5 L1453.8 409.5 L1456.0 409.4 L1458.3 409.4 L1460.5 409.3 L1462.7 409.3 L1465.0 409.2 L1467.2 409.2 L1469.5 409.1 L1471.7 409.1 L1473.9 409.0 L1476.2 409.0 L1478.4 408.9 L1480.6 408.8 L1482.9 408.8 L1485.1 408.7 L1487.4 408.7 L1489.6 408.6 L1491.8 408.6 L1494.1 408.5 L1496.3 408.5 L1498.6 408.4 L1500.8 408.3 L1503.0 408.3 L1505.3 408.2 L1507.5 408.2 L1509.7 408.1 L1512.0 408.0 L1514.2 408.0 L1516.5 407.9 L1518.7 407.9 L1520.9 407.8 L1523.2 407.7 L1525.4 407.7 L1527.6 407.6 L1529.9 407.5 L1531.0 407.5 L1531.0 410.0 L1528.2 410.1 L1525.5 410.1 L1522.7 410.2 L1520.0 410.2 L1517.2 410.3 L1514.5 410.3 L1511.7 410.4 L1509.0 410.5 L1506.2 410.5 L1503.5 410.6 L1500.7 410.6 L1498.0 410.7 L1495.2 410.8 L1492.5 410.8 L1489.7 410.9 L1487.0 411.0 L1484.2 411.0 L1481.5 411.1 L1478.7 411.2 L1476.0 411.2 L1473.2 411.3 L1470.5 411.4 L1467.7 411.4 L1465.0 411.5 L1462.2 411.6 L1459.5 411.6 L1456.7 411.7 L1454.0 411.8 L1451.2 411.9 L1448.5 411.9 L1445.7 412.0 L1443.0 412.1 L1440.2 412.1 L1437.5 412.2 L1434.7 412.3 L1432.0 412.4 L1429.3 412.4 L1426.5 412.5 L1423.8 412.6 L1421.0 412.7 L1418.3 412.7 L1415.5 412.8 L1412.8 412.9 L1410.0 413.0 L1407.3 413.0 L1404.5 413.1 L1401.8 413.2 L1399.0 413.3 L1396.3 413.3 L1393.5 413.4 L1390.8 413.5 L1388.0 413.6 L1385.3 413.6 L1382.5 413.7 L1379.8 413.8 L1377.0 413.9 L1374.3 413.9 L1371.5 414.0 L1368.8 414.1 L1366.0 414.2 L1363.3 414.2 L1360.5 414.3 L1357.8 414.4 L1355.0 414.5 L1352.3 414.5 L1349.5 414.6 L1346.8 414.7 L1344.0 414.8 L1341.3 414.8 L1338.5 414.9 L1335.8 415.0 L1333.0 415.0 L1330.3 415.1 L1327.5 415.2 L1324.8 415.3 L1322.0 415.3 L1319.3 415.4 L1316.5 415.5 L1313.8 415.5 L1311.0 415.6 L1308.3 415.7 L1305.5 415.7 L1302.8 415.8 L1300.0 415.9 L1297.3 415.9 L1294.5 416.0 L1291.8 416.1 L1289.0 416.1 L1286.3 416.2 L1283.5 416.3 L1280.8 416.3 L1278.0 416.4 L1275.3 416.4 L1272.5 416.5 L1269.8 416.6 L1267.0 416.6 L1264.3 416.7 L1261.5 416.7 L1258.8 416.8 L1256.0 416.8 L1253.3 416.9 L1250.5 416.9 L1247.8 417.0 L1245.0 417.0 L1242.3 417.1 L1239.5 417.1 L1236.8 417.2 L1234.0 417.2 L1231.3 417.3 L1228.5 417.3 L1225.8 417.4 L1223.0 417.4 L1220.3 417.5 L1217.5 417.5 L1214.8 417.6 L1212.0 417.6 L1209.3 417.6 L1206.5 417.7 L1203.8 417.7 L1201.0 417.7 L1198.3 417.8 L1195.5 417.8 L1192.8 417.8 L1190.0 417.9 L1187.3 417.9 L1184.5 417.9 L1181.8 418.0 L1179.0 418.0 L1176.3 418.0 L1173.5 418.0 L1170.8 418.1 L1168.0 418.1 L1165.3 418.1 L1162.5 418.1 L1159.8 418.1 L1157.0 418.2 L1154.3 418.2 L1151.5 418.2 L1148.8 418.2 L1146.0 418.2 L1143.3 418.2 L1140.5 418.3 L1137.8 418.3 L1135.0 418.3 L1132.3 418.3 L1129.5 418.3 L1126.7 418.3 L1124.0 418.3 L1121.2 418.4 L1118.5 418.4 L1115.7 418.4 L1113.0 418.4 L1110.2 418.4 L1107.5 418.4 L1104.7 418.4 L1102.0 418.4 L1099.2 418.4 L1096.5 418.5 L1093.7 418.5 L1091.0 418.5 L1088.2 418.5 L1085.5 418.5 L1082.7 418.5 L1080.0 418.5 L1077.2 418.5 L1074.5 418.5 L1071.7 418.5 L1069.0 418.6 L1066.2 418.6 L1063.5 418.6 L1060.7 418.6 L1058.0 418.6 L1055.2 418.6 L1052.5 418.6 L1049.7 418.6 L1047.0 418.6 L1044.2 418.7 L1041.5 418.7 L1038.7 418.7 L1035.9 418.7 L1033.2 418.7 L1030.4 418.7 L1027.7 418.7 L1024.9 418.8 L1022.2 418.8 L1019.4 418.8 L1016.7 418.8 L1013.9 418.8 L1011.2 418.8 L1008.4 418.9 L1005.7 418.9 L1002.9 418.9 L1000.2 418.9 L997.4 418.9 L994.7 419.0 L991.9 419.0 L989.2 419.0 L986.4 419.0 L983.7 419.1 L980.9 419.1 L978.2 419.1 L975.4 419.2 L972.7 419.2 L969.9 419.2 L967.2 419.3 L964.4 419.3 L961.7 419.3 L958.9 419.4 L956.2 419.4 L953.4 419.4 L950.7 419.5 L947.9 419.5 L945.2 419.6 L942.4 419.6 L939.7 419.7 L936.9 419.7 L934.2 419.8 L931.4 419.8 L928.7 419.9 L925.9 419.9 L923.2 420.0 L920.4 420.0 L917.7 420.1 L914.9 420.2 L912.2 420.2 L909.4 420.3 L906.7 420.3 L903.9 420.4 L901.2 420.5 L898.4 420.6 L895.7 420.6 L893.0 420.7 L890.2 420.8 L887.5 420.9 L884.7 420.9 L882.0 421.0 L879.2 421.1 L876.5 421.2 L873.7 421.3 L871.0 421.4 L868.2 421.5 L865.5 421.6 L862.7 421.7 L860.0 421.8 L857.2 421.9 L854.5 422.0 L851.7 422.1 L849.0 422.2 L846.2 422.3 L843.5 422.4 L840.8 422.5 L838.0 422.6 L835.3 422.7 L832.5 422.9 L829.8 423.0 L827.0 423.1 L824.3 423.2 L821.5 423.3 L818.8 423.5 L816.0 423.6 L813.3 423.7 L810.5 423.8 L807.8 424.0 L805.1 424.1 L802.3 424.2 L799.6 424.4 L796.8 424.5 L794.1 424.7 L791.3 424.8 L788.6 424.9 L785.8 425.1 L783.1 425.2 L780.3 425.4 L777.6 425.5 L774.8 425.7 L772.1 425.8 L769.4 425.9 L766.6 426.1 L763.9 426.3 L761.1 426.4 L758.4 426.6 L755.6 426.7 L752.9 426.9 L750.1 427.0 L747.4 427.2 L744.6 427.3 L741.9 427.5 L739.1 427.7 L736.4 427.8 L733.6 428.0 L730.9 428.1 L728.2 428.3 L725.4 428.5 L722.7 428.6 L719.9 428.8 L717.2 429.0 L714.4 429.1 L711.7 429.3 L708.9 429.5 L706.2 429.6 L703.4 429.8 L700.7 430.0 L697.9 430.1 L695.2 430.3 L692.4 430.5 L689.7 430.7 L686.9 430.8 L684.2 431.0 L681.4 431.2 L678.7 431.3 L675.9 431.5 L673.2 431.7 L670.4 431.9 L667.7 432.0 L664.9 432.2 L662.2 432.4 L659.4 432.6 L656.7 432.7 L653.9 432.9 L651.2 433.1 L648.4 433.3 L645.7 433.4 L642.9 433.6 L640.2 433.8 L637.4 434.0 L634.7 434.1 L631.9 434.3 L629.2 434.5 L626.4 434.7 L623.7 434.9 L621.0 435.1 L618.2 435.3 L615.5 435.5 L612.7 435.7 L610.0 435.9 L607.3 436.2 L604.5 436.4 L601.8 436.7 L599.1 437.0 L596.4 437.3 L593.6 437.6 L591.0 438.0 L588.3 438.4 L585.6 439.0 L583.0 439.6 L580.4 440.3 L577.8 441.1 L575.2 442.0 L572.7 443.0 L570.3 444.2 L567.8 445.4 L565.4 446.7 L563.0 448.2 L560.7 449.6 L558.4 451.2 L556.1 452.8 L553.9 454.5 L551.7 456.3 L549.6 458.1 L547.5 460.0 L545.4 461.9 L543.4 463.8 L541.4 465.8 L539.4 467.8 L537.5 469.8 L535.7 471.9 L533.9 474.0 L532.1 476.1 L530.4 478.2 L528.7 480.3 L527.0 482.5 L525.3 484.7 L523.7 486.9 L522.1 489.1 L520.6 491.3 L519.0 493.6 L517.5 495.8 L516.0 498.1 L514.6 500.4 L513.1 502.7 L511.7 505.0 L510.3 507.3 L508.8 509.7 L507.5 512.0 L506.1 514.4 L504.7 516.8 L503.4 519.2 L502.0 521.6 L500.7 524.0 L499.4 526.4 L498.1 528.8 L496.8 531.3 L495.6 533.7 L494.3 536.2 L493.0 538.6 L491.8 541.1 L490.6 543.5 L489.4 546.0 L488.1 548.5 L486.9 551.0 L485.7 553.5 L484.6 556.0 L483.4 558.5 L482.2 561.0 L481.0 563.5 L479.9 566.0 L478.7 568.5 L477.6 571.0 L476.4 573.5 L475.3 576.1 L474.1 578.6 L473.0 581.1 L471.9 583.6 L470.7 586.1 L469.6 588.6 L468.5 591.2 L467.3 593.7 L466.2 596.2 L465.1 598.7 L464.0 601.2 L462.8 603.7 L461.7 606.2 L460.6 608.7 L459.5 611.2 L458.3 613.7 L457.2 616.2 L456.1 618.7 L455.0 621.2 L453.9 623.7 L452.8 626.2 L451.7 628.7 L450.7 631.2 L449.6 633.7 L448.6 636.2 L447.5 638.8 L446.5 641.3 L445.5 643.9 L444.5 646.4 L443.6 649.0 L442.6 651.6 L441.7 654.2 L440.7 656.8 L439.8 659.4 L438.9 662.0 L438.0 664.6 L437.1 667.2 L436.2 669.8 L435.3 672.4 L434.4 675.0 L433.4 677.6 L432.5 680.2 L431.5 682.8 L430.6 685.4 L429.6 688.0 L428.7 690.6 L427.7 693.1 L426.7 695.7 L425.7 698.3 L424.8 700.9 L423.8 703.4 L422.8 706.0 L421.9 708.6 L420.9 711.1 L420.0 713.7 L419.0 716.3 L418.1 718.9 L417.1 721.5 L416.2 724.1 L415.3 726.6 L414.5 729.2 L413.6 731.8 L412.7 734.5 L411.9 737.1 L411.1 739.7 L410.3 742.3 L409.5 745.0 L408.8 747.6 L408.0 750.3 L407.3 752.9 L406.7 755.6 L406.0 758.3 L405.3 760.9 L404.6 763.6 L403.9 766.3 L403.2 768.9 L402.4 771.5 L401.5 774.1 L400.6 776.7 L399.7 779.3 L398.7 781.8 L397.5 784.3 L396.3 786.8 L395.0 789.2 L393.6 791.6 L392.1 794.0 L390.7 796.3 L389.4 798.8 L388.4 801.4 L387.8 804.1 L387.6 806.0 Z" stroke="#ff0000"/>
<path d="M389.8 880.0 L389.9 877.6 L390.0 875.3 L390.2 872.9 L390.3 870.6 L390.4 868.2 L390.5 865.9 L390.7 863.5 L390.8 861.2 L390.9 858.8 L391.0 856.5 L391.2 854.1 L391.3 851.8 L391.4 849.4 L391.5 847.0 L391.7 844.7 L391.8 842.3 L391.9 840.0 L392.0 837.6 L392.2 835.3 L392.3 832.9 L392.4 830.6 L392.6 828.2 L392.7 825.9 L392.8 823.5 L392.9 821.1 L393.1 818.8 L393.2 816.4 L393.3 814.1 L393.5 811.7 L393.6 809.4 L393.7 807.0 L393.8 804.7 L394.0 802.3 L394.1 799.9 L394.2 797.6 L394.4 795.2 L394.5 792.9 L394.6 790.5 L394.8 788.2 L394.9 785.8 L395.0 783.5 L395.2 781.1 L395.3 778.7 L395.4 776.4 L395.5 774.0 L395.7 771.7 L395.8 769.3 L395.9 767.0 L396.1 764.6 L396.2 762.3 L396.3 759.9 L396.4 757.6 L396.6 755.2 L396.7 752.8 L396.8 750.5 L397.0 748.1 L397.1 745.8 L397.2 743.4 L397.3 741.1 L397.5 738.7 L397.6 736.4 L397.7 734.0 L397.9 731.6 L398.0 729.3 L398.1 726.9 L398.2 724.6 L398.4 722.2 L398.5 719.9 L398.6 717.5 L398.7 715.2 L398.9 712.8 L399.0 710.5 L399.1 708.1 L399.2 705.7 L399.3 703.4 L399.5 701.0 L399.6 698.7 L399.7 696.3 L399.8 694.0 L399.9 691.6 L400.1 689.3 L400.2 686.9 L400.3 684.6 L400.4 682.2 L400.5 679.8 L400.7 677.5 L400.8 675.1 L400.9 672.8 L401.0 670.4 L401.2 668.1 L401.3 665.7 L401.4 663.4 L401.6 661.0 L401.7 658.7 L401.8 656.3 L402.0 654.0 L402.1 651.6 L402.3 649.3 L402.4 646.9 L402.6 644.6 L402.7 642.2 L402.9 639.8 L403.0 637.5 L403.2 635.1 L403.4 632.8 L403.6 630.4 L403.7 628.1 L403.9 625.7 L404.1 623.4 L404.3 621.1 L404.5 618.7 L404.7 616.4 L404.9 614.0 L405.1 611.7 L405.3 609.3 L405.6 607.0 L405.8 604.6 L406.0 602.3 L406.3 599.9 L406.5 597.6 L406.8 595.2 L407.0 592.9 L407.3 590.5 L407.6 588.2 L407.8 585.9 L408.1 583.5 L408.4 581.2 L408.7 578.8 L409.0 576.5 L409.2 574.1 L409.5 571.8 L409.8 569.5 L410.1 567.1 L410.4 564.8 L410.7 562.4 L411.0 560.1 L411.3 557.8 L411.6 555.4 L411.9 553.1 L412.2 550.7 L412.5 548.4 L412.8 546.0 L413.0 543.7 L413.3 541.4 L413.6 539.0 L413.9 536.7 L414.1 534.3 L414.4 532.0 L414.6 529.6 L414.9 527.3 L415.1 525.0 L415.4 522.6 L415.6 520.3 L415.8 517.9 L416.1 515.6 L416.3 513.2 L416.5 510.9 L416.7 508.5 L416.9 506.2 L417.1 503.8 L417.3 501.5 L417.5 499.1 L417.7 496.8 L417.9 494.5 L418.1 492.1 L418.2 489.8 L418.4 487.4 L418.6 485.1 L418.8 482.7 L419.0 480.4 L419.2 478.0 L419.4 475.7 L419.6 473.3 L419.7 471.0 L419.9 468.6 L420.1 466.3 L420.3 463.9 L420.5 461.6 L420.7 459.2 L421.0 456.9 L421.2 454.5 L421.4 452.2 L421.6 449.9 L421.8 447.5 L422.1 445.2 L422.3 442.8 L422.6 440.5 L422.8 438.1 L423.1 435.8 L423.4 433.4 L423.6 431.1 L423.9 428.7 L424.2 426.4 L424.5 424.1 L424.9 421.7 L425.2 419.4 L425.5 417.0 L425.9 414.7 L426.2 412.4 L426.6 410.0 L426.9 407.7 L427.3 405.3 L427.7 403.0 L428.0 400.7 L428.4 398.3 L428.8 396.0 L429.2 393.7 L429.6 391.3 L429.9 389.0 L430.3 386.7 L430.7 384.3 L431.1 382.0 L431.5 379.7 L431.8 377.3 L432.2 375.0 L432.6 372.7 L433.0 370.4 L433.3 368.1 L433.7 365.7 L434.1 363.4 L434.4 361.1 L434.8 358.8 L435.2 356.5 L435.6 354.1 L435.9 351.8 L436.3 349.5 L436.7 347.2 L437.1 344.9 L437.5 342.6 L437.9 340.3 L438.3 338.0 L438.7 335.7 L439.1 333.3 L439.5 331.0 L439.9 328.7 L440.4 326.4 L440.8 324.1 L441.3 321.8 L441.7 319.5 L442.2 317.2 L442.7 314.9 L443.1 312.6 L443.6 310.3 L444.1 308.0 L444.7 305.7 L445.2 303.4 L445.7 301.1 L446.3 298.8 L446.9 296.5 L447.4 294.2 L448.0 291.9 L448.6 289.6 L449.3 287.3 L449.9 285.1 L450.6 282.8 L451.2 280.5 L451.9 278.2 L452.7 275.9 L453.4 273.6 L454.2 271.4 L455.0 269.2 L455.9 266.9 L456.8 264.7 L457.8 262.6 L458.8 260.4 L459.9 258.3 L461.0 256.2 L462.2 254.2 L463.4 252.2 L464.8 250.2 L466.2 248.3 L467.6 246.5 L469.2 244.7 L470.8 243.2 L472.5 241.8 L474.3 240.6 L476.2 239.6 L478.2 238.9 L480.2 238.5 L482.4 238.4 L484.6 238.7 L486.9 239.2 L489.2 240.0 L491.4 241.0 L493.7 242.2 L495.8 243.6 L497.8 245.2 L499.7 246.8 L501.5 248.5 L503.1 250.3 L504.7 252.1 L506.2 254.0 L507.6 256.0 L508.9 257.9 L510.3 259.8 L511.6 261.8 L513.0 263.7 L514.4 265.6 L515.8 267.5 L517.2 269.3 L518.6 271.2 L520.0 273.1 L521.4 274.9 L522.9 276.8 L524.3 278.6 L525.7 280.5 L527.1 282.3 L528.5 284.2 L529.9 286.1 L531.3 288.0 L532.8 289.8 L534.2 291.7 L535.6 293.6 L537.0 295.5 L538.4 297.4 L539.8 299.2 L541.3 301.1 L542.7 303.0 L544.1 304.8 L545.6 306.7 L547.1 308.6 L548.5 310.4 L550.0 312.2 L551.5 314.1 L553.0 315.9 L554.5 317.7 L556.0 319.5 L557.6 321.2 L559.1 323.0 L560.7 324.8 L562.3 326.5 L563.9 328.2 L565.5 329.9 L567.1 331.6 L568.8 333.3 L570.5 334.9 L572.2 336.5 L573.9 338.1 L575.7 339.7 L577.4 341.3 L579.2 342.8 L581.0 344.3 L582.9 345.8 L584.7 347.2 L586.6 348.7 L588.5 350.1 L590.4 351.5 L592.3 352.8 L594.3 354.2 L596.3 355.5 L598.3 356.8 L600.3 358.1 L602.3 359.3 L604.3 360.5 L606.4 361.7 L608.4 362.9 L610.5 364.0 L612.6 365.1 L614.7 366.2 L616.8 367.3 L619.0 368.3 L621.1 369.3 L623.3 370.3 L625.4 371.2 L627.6 372.1 L629.8 373.0 L632.0 373.9 L634.2 374.7 L636.4 375.5 L638.6 376.3 L640.8 377.1 L643.1 377.8 L645.3 378.5 L647.6 379.2 L649.8 379.8 L652.1 380.4 L654.4 381.1 L656.7 381.6 L658.9 382.2 L661.2 382.8 L663.5 383.3 L665.8 383.8 L668.1 384.3 L670.4 384.8 L672.7 385.2 L675.0 385.7 L677.4 386.1 L679.7 386.5 L682.0 386.9 L684.3 387.3 L686.7 387.7 L689.0 388.1 L691.3 388.5 L693.6 388.8 L696.0 389.2 L698.3 389.6 L700.6 389.9 L703.0 390.2 L705.3 390.6 L707.7 390.9 L710.0 391.3 L712.3 391.6 L714.7 391.9 L717.0 392.2 L719.3 392.5 L721.7 392.9 L724.0 393.2 L726.4 393.5 L728.7 393.8 L731.0 394.1 L733.4 394.4 L735.7 394.6 L738.1 394.9 L740.4 395.2 L742.7 395.5 L745.1 395.8 L747.4 396.0 L749.8 396.3 L752.1 396.6 L754.5 396.8 L756.8 397.1 L759.2 397.3 L761.5 397.6 L763.8 397.8 L766.2 398.1 L768.5 398.3 L770.9 398.5 L773.2 398.8 L775.6 399.0 L777.9 399.2 L780.3 399.5 L782.6 399.7 L785.0 399.9 L787.3 400.1 L789.7 400.3 L792.0 400.5 L794.3 400.7 L796.7 400.9 L799.0 401.1 L801.4 401.3 L803.7 401.5 L806.1 401.7 L808.4 401.9 L810.8 402.1 L813.1 402.3 L815.5 402.5 L817.8 402.6 L820.2 402.8 L822.5 403.0 L824.9 403.1 L827.3 403.3 L829.6 403.5 L832.0 403.6 L834.3 403.8 L836.7 403.9 L839.0 404.1 L841.4 404.2 L843.7 404.4 L846.1 404.5 L848.4 404.7 L850.8 404.8 L853.1 405.0 L855.5 405.1 L857.8 405.2 L860.2 405.4 L862.6 405.5 L864.9 405.6 L867.3 405.7 L869.6 405.9 L872.0 406.0 L874.3 406.1 L876.7 406.2 L879.0 406.3 L881.4 406.5 L883.8 406.6 L886.1 406.7 L888.5 406.8 L890.8 406.9 L893.2 407.0 L895.5 407.1 L897.9 407.2 L900.2 407.3 L902.6 407.4 L905.0 407.5 L907.3 407.6 L909.7 407.7 L912.0 407.8 L914.4 407.8 L916.7 407.9 L919.1 408.0 L921.5 408.1 L923.8 408.2 L926.2 408.3 L928.5 408.3 L930.9 408.4 L933.3 408.5 L935.6 408.6 L938.0 408.6 L940.3 408.7 L942.7 408.8 L945.0 408.8 L947.4 408.9 L949.8 409.0 L952.1 409.0 L954.5 409.1 L956.8 409.2 L959.2 409.2 L961.6 409.3 L963.9 409.4 L966.3 409.4 L968.6 409.5 L971.0 409.5 L973.4 409.6 L975.7 409.6 L978.1 409.7 L980.4 409.8 L982.8 409.8 L985.1 409.9 L987.5 409.9 L989.9 410.0 L992.2 410.0 L994.6 410.1 L996.9 410.1 L999.3 410.2 L1001.7 410.2 L1004.0 410.3 L1006.4 410.3 L1008.7 410.4 L1011.1 410.4 L1013.5 410.4 L1015.8 410.5 L1018.2 410.5 L1020.5 410.6 L1022.9 410.6 L1025.3 410.7 L1027.6 410.7 L1030.0 410.7 L1032.3 410.8 L1034.7 410.8 L1037.0 410.9 L1039.4 410.9 L1041.8 410.9 L1044.1 411.0 L1046.5 411.0 L1048.8 411.0 L1051.2 411.1 L1053.6 411.1 L1055.9 411.2 L1058.3 411.2 L1060.6 411.2 L1063.0 411.3 L1065.4 411.3 L1067.7 411.3 L1070.1 411.3 L1072.4 411.4 L1074.8 411.4 L1077.1 411.4 L1079.5 411.5 L1081.9 411.5 L1084.2 411.5 L1086.6 411.5 L1088.9 411.6 L1091.3 411.6 L1093.7 411.6 L1096.0 411.6 L1098.4 411.7 L1100.7 411.7 L1103.1 411.7 L1105.4 411.7 L1107.8 411.8 L1110.2 411.8 L1112.5 411.8 L1114.9 411.8 L1117.2 411.8 L1119.6 411.9 L1122.0 411.9 L1124.3 411.9 L1126.7 411.9 L1129.0 411.9 L1131.4 411.9 L1133.7 412.0 L1136.1 412.0 L1138.5 412.0 L1140.8 412.0 L1143.2 412.0 L1145.5 412.0 L1147.9 412.0 L1150.3 412.0 L1152.6 412.0 L1155.0 412.1 L1157.3 412.1 L1159.7 412.1 L1162.0 412.1 L1164.4 412.1 L1166.8 412.1 L1169.1 412.1 L1171.5 412.1 L1173.8 412.1 L1176.2 412.1 L1178.5 412.1 L1180.9 412.1 L1183.3 412.1 L1185.6 412.1 L1188.0 412.1 L1190.3 412.1 L1192.7 412.1 L1195.1 412.1 L1197.4 412.1 L1199.8 412.1 L1202.1 412.1 L1204.5 412.1 L1206.8 412.1 L1209.2 412.1 L1211.6 412.1 L1213.9 412.1 L1216.3 412.1 L1218.6 412.1 L1221.0 412.1 L1223.3 412.0 L1225.7 412.0 L1228.1 412.0 L1230.4 412.0 L1232.8 412.0 L1235.1 412.0 L1237.5 412.0 L1239.8 412.0 L1242.2 411.9 L1244.6 411.9 L1246.9 411.9 L1249.3 411.9 L1251.6 411.9 L1254.0 411.9 L1256.4 411.8 L1258.7 411.8 L1261.1 411.8 L1263.4 411.8 L1265.8 411.8 L1268.1 411.7 L1270.5 411.7 L1272.9 411.7 L1275.2 411.7 L1277.6 411.7 L1279.9 411.6 L1282.3 411.6 L1284.6 411.6 L1287.0 411.5 L1289.4 411.5 L1291.7 411.5 L1294.1 411.5 L1296.4 411.4 L1298.8 411.4 L1301.1 411.4 L1303.5 411.3 L1305.9 411.3 L1308.2 411.3 L1310.6 411.2 L1312.9 411.2 L1315.3 411.2 L1317.6 411.1 L1320.0 411.1 L1322.4 411.1 L1324.7 411.0 L1327.1 411.0 L1329.4 410.9 L1331.8 410.9 L1334.2 410.9 L1336.5 410.8 L1338.9 410.8 L1341.2 410.7 L1343.6 410.7 L1345.9 410.7 L1348.3 410.6 L1350.7 410.6 L1353.0 410.5 L1355.4 410.5 L1357.7 410.4 L1360.1 410.4 L1362.4 410.3 L1364.8 410.3 L1367.2 410.2 L1369.5 410.2 L1371.9 410.1 L1374.2 410.1 L1376.6 410.0 L1378.9 410.0 L1381.3 409.9 L1383.7 409.9 L1386.0 409.8 L1388.4 409.7 L1390.7 409.7 L1393.1 409.6 L1395.4 409.6 L1397.8 409.5 L1400.2 409.5 L1402.5 409.4 L1404.9 409.3 L1407.2 409.3 L1409.6 409.2 L1411.9 409.1 L1414.3 409.1 L1416.7 409.0 L1419.0 408.9 L1421.4 408.9 L1423.7 408.8 L1426.1 408.7 L1428.4 408.7 L1430.8 408.6 L1433.2 408.5 L1435.5 408.5 L1437.9 408.4 L1440.2 408.3 L1442.6 408.3 L1445.0 408.2 L1447.3 408.1 L1449.7 408.0 L1452.0 408.0 L1454.4 407.9 L1456.7 407.8 L1459.1 407.7 L1461.5 407.6 L1463.8 407.6 L1466.2 407.5 L1468.5 407.4 L1470.9 407.3 L1473.2 407.2 L1475.6 407.2 L1478.0 407.1 L1480.3 407.0 L1482.7 406.9 L1485.0 406.8 L1487.4 406.7 L1489.7 406.6 L1492.1 406.6 L1494.5 406.5 L1496.8 406.4 L1499.2 406.3 L1501.5 406.2 L1503.9 406.1 L1506.2 406.0 L1508.6 405.9 L1511.0 405.8 L1513.3 405.7 L1515.7 405.6 L1518.0 405.5 L1520.4 405.4 L1522.7 405.3 L1525.1 405.2 L1527.5 405.2 L1529.8 405.1 L1531.0 405.0 L1531.0 408.0 L1528.1 408.2 L1525.2 408.3 L1522.4 408.5 L1519.5 408.6 L1516.6 408.8 L1513.7 408.9 L1510.9 409.1 L1508.0 409.2 L1505.1 409.4 L1502.2 409.5 L1499.4 409.7 L1496.5 409.8 L1493.6 409.9 L1490.7 410.1 L1487.9 410.2 L1485.0 410.3 L1482.1 410.5 L1479.2 410.6 L1476.4 410.7 L1473.5 410.8 L1470.6 411.0 L1467.7 411.1 L1464.8 411.2 L1462.0 411.3 L1459.1 411.4 L1456.2 411.5 L1453.3 411.7 L1450.5 411.8 L1447.6 411.9 L1444.7 412.0 L1441.8 412.1 L1438.9 412.2 L1436.1 412.3 L1433.2 412.4 L1430.3 412.5 L1427.4 412.6 L1424.6 412.7 L1421.7 412.8 L1418.8 412.9 L1415.9 412.9 L1413.1 413.0 L1410.2 413.1 L1407.3 413.2 L1404.4 413.3 L1401.5 413.4 L1398.7 413.5 L1395.8 413.5 L1392.9 413.6 L1390.0 413.7 L1387.1 413.8 L1384.3 413.8 L1381.4 413.9 L1378.5 414.0 L1375.6 414.1 L1372.8 414.1 L1369.9 414.2 L1367.0 414.3 L1364.1 414.3 L1361.2 414.4 L1358.4 414.4 L1355.5 414.5 L1352.6 414.6 L1349.7 414.6 L1346.9 414.7 L1344.0 414.7 L1341.1 414.8 L1338.2 414.9 L1335.3 414.9 L1332.5 415.0 L1329.6 415.0 L1326.7 415.1 L1323.8 415.1 L1320.9 415.2 L1318.1 415.2 L1315.2 415.3 L1312.3 415.3 L1309.4 415.4 L1306.5 415.4 L1303.7 415.4 L1300.8 415.5 L1297.9 415.5 L1295.0 415.6 L1292.2 415.6 L1289.3 415.6 L1286.4 415.7 L1283.5 415.7 L1280.6 415.8 L1277.8 415.8 L1274.9 415.8 L1272.0 415.9 L1269.1 415.9 L1266.2 415.9 L1263.4 416.0 L1260.5 416.0 L1257.6 416.0 L1254.7 416.1 L1251.8 416.1 L1249.0 416.1 L1246.1 416.2 L1243.2 416.2 L1240.3 416.2 L1237.4 416.2 L1234.6 416.3 L1231.7 416.3 L1228.8 416.3 L1225.9 416.4 L1223.0 416.4 L1220.2 416.4 L1217.3 416.4 L1214.4 416.5 L1211.5 416.5 L1208.7 416.5 L1205.8 416.5 L1202.9 416.6 L1200.0 416.6 L1197.1 416.6 L1194.3 416.6 L1191.4 416.7 L1188.5 416.7 L1185.6 416.7 L1182.7 416.7 L1179.9 416.7 L1177.0 416.8 L1174.1 416.8 L1171.2 416.8 L1168.3 416.8 L1165.5 416.9 L1162.6 416.9 L1159.7 416.9 L1156.8 416.9 L1153.9 416.9 L1151.1 417.0 L1148.2 417.0 L1145.3 417.0 L1142.4 417.0 L1139.5 417.0 L1136.7 417.1 L1133.8 417.1 L1130.9 417.1 L1128.0 417.1 L1125.1 417.2 L1122.3 417.2 L1119.4 417.2 L1116.5 417.2 L1113.6 417.3 L1110.8 417.3 L1107.9 417.3 L1105.0 417.3 L1102.1 417.4 L1099.2 417.4 L1096.4 417.4 L1093.5 417.4 L1090.6 417.5 L1087.7 417.5 L1084.8 417.5 L1082.0 417.5 L1079.1 417.6 L1076.2 417.6 L1073.3 417.6 L1070.4 417.6 L1067.6 417.7 L1064.7 417.7 L1061.8 417.7 L1058.9 417.8 L1056.0 417.8 L1053.2 417.8 L1050.3 417.9 L1047.4 417.9 L1044.5 417.9 L1041.7 418.0 L1038.8 418.0 L1035.9 418.0 L1033.0 418.1 L1030.1 418.1 L1027.3 418.2 L1024.4 418.2 L1021.5 418.2 L1018.6 418.3 L1015.7 418.3 L1012.9 418.4 L1010.0 418.4 L1007.1 418.4 L1004.2 418.5 L1001.4 418.5 L998.5 418.6 L995.6 418.6 L992.7 418.7 L989.8 418.7 L987.0 418.8 L984.1 418.8 L981.2 418.9 L978.3 418.9 L975.4 419.0 L972.6 419.0 L969.7 419.1 L966.8 419.2 L963.9 419.2 L961.1 419.3 L958.2 419.3 L955.3 419.4 L952.4 419.5 L949.5 419.5 L946.7 419.6 L943.8 419.7 L940.9 419.7 L938.0 419.8 L935.2 419.9 L932.3 419.9 L929.4 420.0 L926.5 420.1 L923.6 420.2 L920.8 420.2 L917.9 420.3 L915.0 420.4 L912.1 420.5 L909.3 420.6 L906.4 420.6 L903.5 420.7 L900.6 420.8 L897.7 420.9 L894.9 421.0 L892.0 421.1 L889.1 421.2 L886.2 421.3 L883.4 421.4 L880.5 421.5 L877.6 421.6 L874.7 421.7 L871.9 421.8 L869.0 421.9 L866.1 422.0 L863.2 422.1 L860.4 422.2 L857.5 422.3 L854.6 422.4 L851.7 422.5 L848.8 422.7 L846.0 422.8 L843.1 422.9 L840.2 423.0 L837.3 423.1 L834.5 423.3 L831.6 423.4 L828.7 423.5 L825.8 423.6 L823.0 423.8 L820.1 423.9 L817.2 424.0 L814.3 424.2 L811.5 424.3 L808.6 424.4 L805.7 424.6 L802.8 424.7 L800.0 424.8 L797.1 425.0 L794.2 425.1 L791.3 425.3 L788.5 425.4 L785.6 425.6 L782.7 425.7 L779.8 425.9 L777.0 426.0 L774.1 426.2 L771.2 426.3 L768.3 426.5 L765.5 426.6 L762.6 426.8 L759.7 427.0 L756.8 427.1 L754.0 427.3 L751.1 427.4 L748.2 427.6 L745.3 427.8 L742.5 427.9 L739.6 428.1 L736.7 428.3 L733.8 428.4 L731.0 428.6 L728.1 428.8 L725.2 429.0 L722.4 429.1 L719.5 429.3 L716.6 429.5 L713.7 429.7 L710.9 429.9 L708.0 430.0 L705.1 430.2 L702.2 430.4 L699.4 430.6 L696.5 430.8 L693.6 431.0 L690.7 431.2 L687.9 431.4 L685.0 431.5 L682.1 431.7 L679.3 431.9 L676.4 432.1 L673.5 432.3 L670.6 432.5 L667.8 432.8 L664.9 433.0 L662.0 433.2 L659.1 433.4 L656.3 433.6 L653.4 433.8 L650.5 434.1 L647.7 434.3 L644.8 434.5 L641.9 434.8 L639.0 435.0 L636.2 435.3 L633.3 435.5 L630.4 435.8 L627.5 436.1 L624.7 436.3 L621.8 436.6 L618.9 436.9 L616.1 437.2 L613.2 437.5 L610.3 437.8 L607.4 438.1 L604.6 438.4 L601.7 438.7 L598.8 439.0 L595.9 439.4 L593.1 439.8 L590.3 440.2 L587.5 440.8 L584.8 441.6 L582.1 442.5 L579.6 443.6 L577.1 445.0 L574.7 446.5 L572.3 448.2 L570.0 450.0 L567.8 451.9 L565.5 453.7 L563.3 455.6 L561.0 457.5 L558.8 459.4 L556.5 461.2 L554.2 463.0 L551.9 464.7 L549.6 466.4 L547.4 468.1 L545.2 469.9 L543.0 471.7 L540.9 473.6 L538.9 475.5 L537.0 477.6 L535.2 479.8 L533.5 482.0 L531.8 484.3 L530.2 486.7 L528.6 489.1 L527.1 491.6 L525.6 494.1 L524.1 496.6 L522.6 499.1 L521.1 501.6 L519.7 504.1 L518.2 506.6 L516.8 509.1 L515.3 511.6 L513.9 514.1 L512.4 516.6 L511.0 519.1 L509.6 521.6 L508.2 524.1 L506.8 526.7 L505.4 529.2 L504.1 531.7 L502.7 534.3 L501.4 536.8 L500.0 539.3 L498.7 541.9 L497.4 544.5 L496.2 547.0 L494.9 549.6 L493.6 552.2 L492.4 554.8 L491.1 557.4 L489.9 560.0 L488.7 562.6 L487.5 565.2 L486.3 567.8 L485.1 570.4 L484.0 573.0 L482.8 575.7 L481.6 578.3 L480.5 580.9 L479.4 583.6 L478.3 586.2 L477.2 588.9 L476.1 591.6 L475.0 594.2 L473.9 596.9 L472.8 599.5 L471.8 602.2 L470.7 604.9 L469.7 607.6 L468.6 610.3 L467.6 613.0 L466.6 615.7 L465.6 618.3 L464.6 621.0 L463.6 623.7 L462.6 626.5 L461.6 629.2 L460.6 631.9 L459.7 634.6 L458.7 637.3 L457.7 640.0 L456.8 642.7 L455.9 645.5 L454.9 648.2 L454.0 650.9 L453.1 653.7 L452.2 656.4 L451.2 659.1 L450.3 661.9 L449.4 664.6 L448.5 667.3 L447.6 670.1 L446.8 672.8 L445.9 675.6 L445.0 678.3 L444.1 681.1 L443.3 683.8 L442.4 686.6 L441.5 689.3 L440.7 692.1 L439.8 694.8 L438.9 697.6 L438.1 700.3 L437.3 703.1 L436.4 705.8 L435.6 708.6 L434.7 711.3 L433.9 714.1 L433.1 716.8 L432.2 719.6 L431.4 722.4 L430.6 725.1 L429.8 727.9 L428.9 730.6 L428.1 733.4 L427.3 736.1 L426.5 738.9 L425.7 741.7 L424.9 744.4 L424.1 747.2 L423.4 750.0 L422.6 752.7 L421.8 755.5 L421.0 758.3 L420.3 761.0 L419.5 763.8 L418.7 766.6 L418.0 769.4 L417.2 772.1 L416.5 774.9 L415.8 777.7 L415.0 780.5 L414.3 783.3 L413.6 786.0 L412.9 788.8 L412.2 791.6 L411.5 794.4 L410.8 797.2 L410.1 800.0 L409.4 802.8 L408.7 805.6 L408.0 808.4 L407.4 811.2 L406.7 814.0 L406.0 816.8 L405.4 819.6 L404.7 822.4 L404.1 825.2 L403.4 828.0 L402.7 830.9 L402.1 833.7 L401.4 836.5 L400.7 839.3 L400.0 842.1 L399.3 844.9 L398.7 847.7 L398.0 850.4 L397.2 853.2 L396.5 856.0 L395.8 858.8 L395.1 861.6 L394.3 864.4 L393.5 867.1 L392.8 869.9 L392.0 872.7 L391.2 875.4 L390.4 878.2 L389.8 880.0 Z" stroke="#0000ff"/>
<path d="M387.5 682.0 L387.9 679.3 L388.2 676.6 L388.5 673.9 L388.7 671.2 L388.9 668.5 L389.2 665.7 L389.3 663.0 L389.5 660.3 L389.7 657.5 L389.8 654.8 L390.0 652.1 L390.1 649.3 L390.2 646.6 L390.3 643.8 L390.5 641.1 L390.6 638.3 L390.8 635.6 L390.9 632.9 L391.1 630.1 L391.3 627.4 L391.5 624.7 L391.8 622.0 L392.1 619.2 L392.4 616.5 L392.7 613.8 L393.1 611.1 L393.5 608.4 L394.0 605.8 L394.5 603.1 L395.0 600.4 L395.6 597.8 L396.3 595.1 L397.0 592.5 L397.7 589.9 L398.5 587.3 L399.3 584.6 L400.1 582.0 L400.9 579.4 L401.8 576.8 L402.7 574.2 L403.5 571.6 L404.4 569.0 L405.3 566.4 L406.2 563.8 L407.0 561.2 L407.8 558.6 L408.6 556.0 L409.4 553.3 L410.2 550.7 L410.9 548.1 L411.6 545.4 L412.2 542.8 L412.8 540.1 L413.4 537.5 L414.0 534.8 L414.5 532.1 L415.0 529.5 L415.5 526.8 L416.0 524.1 L416.5 521.4 L417.0 518.8 L417.5 516.1 L418.0 513.4 L418.5 510.7 L419.0 508.0 L419.5 505.3 L420.0 502.6 L420.5 499.9 L421.1 497.3 L421.7 494.6 L422.3 491.9 L422.9 489.2 L423.5 486.6 L424.2 483.9 L424.9 481.2 L425.6 478.6 L426.4 476.0 L427.2 473.4 L428.0 470.7 L428.8 468.1 L429.7 465.6 L430.7 463.0 L431.6 460.4 L432.6 457.9 L433.7 455.4 L434.8 452.9 L435.9 450.4 L437.0 448.0 L438.2 445.5 L439.5 443.1 L440.7 440.7 L442.0 438.3 L443.3 435.9 L444.6 433.5 L445.9 431.1 L447.3 428.8 L448.7 426.4 L450.0 424.1 L451.4 421.8 L452.8 419.4 L454.2 417.1 L455.6 414.8 L457.0 412.4 L458.4 410.2 L459.9 407.9 L461.4 405.7 L463.1 403.6 L464.8 401.6 L466.7 399.8 L468.8 398.1 L470.9 396.5 L473.2 395.1 L475.6 393.8 L478.0 392.6 L480.6 391.7 L483.2 390.8 L485.9 390.1 L488.6 389.6 L491.3 389.2 L494.0 389.0 L496.8 388.8 L499.5 388.8 L502.3 388.8 L505.0 388.8 L507.8 389.0 L510.5 389.1 L513.2 389.3 L516.0 389.6 L518.7 389.9 L521.4 390.2 L524.1 390.5 L526.8 390.8 L529.5 391.2 L532.2 391.6 L534.9 392.0 L537.6 392.4 L540.3 392.8 L543.0 393.1 L545.7 393.5 L548.4 393.9 L551.1 394.3 L553.8 394.7 L556.5 395.1 L559.3 395.5 L562.0 395.9 L564.7 396.2 L567.4 396.6 L570.1 396.9 L572.8 397.2 L575.5 397.6 L578.3 397.9 L581.0 398.2 L583.7 398.4 L586.4 398.7 L589.2 398.9 L591.9 399.1 L594.6 399.3 L597.3 399.5 L600.1 399.6 L602.8 399.7 L605.5 399.8 L608.2 399.9 L611.0 400.0 L613.7 400.0 L616.4 400.0 L619.2 400.1 L621.9 400.1 L624.6 400.1 L627.4 400.1 L630.1 400.1 L632.8 400.1 L635.6 400.1 L638.3 400.1 L641.1 400.1 L643.8 400.1 L646.5 400.2 L649.3 400.2 L652.0 400.3 L654.7 400.4 L657.5 400.4 L660.2 400.5 L662.9 400.6 L665.6 400.7 L668.4 400.8 L671.1 400.9 L673.8 401.0 L676.6 401.1 L679.3 401.3 L682.0 401.4 L684.8 401.5 L687.5 401.6 L690.2 401.8 L693.0 401.9 L695.7 402.0 L698.4 402.1 L701.1 402.3 L703.9 402.4 L706.6 402.5 L709.3 402.7 L712.1 402.8 L714.8 402.9 L717.5 403.0 L720.3 403.1 L723.0 403.3 L725.7 403.4 L728.5 403.5 L731.2 403.6 L733.9 403.7 L736.6 403.9 L739.4 404.0 L742.1 404.1 L744.8 404.2 L747.6 404.3 L750.3 404.4 L753.0 404.5 L755.8 404.7 L758.5 404.8 L761.2 404.9 L764.0 405.0 L766.7 405.1 L769.4 405.2 L772.1 405.3 L774.9 405.4 L777.6 405.5 L780.3 405.6 L783.1 405.7 L785.8 405.8 L788.5 405.9 L791.3 406.0 L794.0 406.1 L796.7 406.2 L799.5 406.3 L802.2 406.4 L804.9 406.5 L807.7 406.6 L810.4 406.7 L813.1 406.8 L815.9 406.9 L818.6 407.0 L821.3 407.1 L824.0 407.2 L826.8 407.3 L829.5 407.3 L832.2 407.4 L835.0 407.5 L837.7 407.6 L840.4 407.7 L843.2 407.8 L845.9 407.9 L848.6 408.0 L851.4 408.0 L854.1 408.1 L856.8 408.2 L859.6 408.3 L862.3 408.4 L865.0 408.4 L867.8 408.5 L870.5 408.6 L873.2 408.7 L876.0 408.7 L878.7 408.8 L881.4 408.9 L884.2 409.0 L886.9 409.0 L889.6 409.1 L892.3 409.2 L895.1 409.3 L897.8 409.3 L900.5 409.4 L903.3 409.5 L906.0 409.5 L908.7 409.6 L911.5 409.7 L914.2 409.7 L916.9 409.8 L919.7 409.9 L922.4 409.9 L925.1 410.0 L927.9 410.0 L930.6 410.1 L933.3 410.2 L936.1 410.2 L938.8 410.3 L941.5 410.3 L944.3 410.4 L947.0 410.5 L949.7 410.5 L952.5 410.6 L955.2 410.6 L957.9 410.7 L960.7 410.7 L963.4 410.8 L966.1 410.8 L968.9 410.9 L971.6 410.9 L974.3 411.0 L977.1 411.0 L979.8 411.1 L982.5 411.1 L985.3 411.2 L988.0 411.2 L990.7 411.3 L993.5 411.3 L996.2 411.4 L998.9 411.4 L1001.7 411.4 L1004.4 411.5 L1007.1 411.5 L1009.9 411.6 L1012.6 411.6 L1015.3 411.7 L1018.1 411.7 L1020.8 411.7 L1023.5 411.8 L1026.3 411.8 L1029.0 411.8 L1031.7 411.9 L1034.5 411.9 L1037.2 411.9 L1039.9 412.0 L1042.7 412.0 L1045.4 412.0 L1048.1 412.1 L1050.9 412.1 L1053.6 412.1 L1056.3 412.2 L1059.1 412.2 L1061.8 412.2 L1064.5 412.3 L1067.3 412.3 L1070.0 412.3 L1072.7 412.3 L1075.5 412.4 L1078.2 412.4 L1080.9 412.4 L1083.7 412.4 L1086.4 412.5 L1089.1 412.5 L1091.9 412.5 L1094.6 412.5 L1097.3 412.5 L1100.1 412.6 L1102.8 412.6 L1105.5 412.6 L1108.3 412.6 L1111.0 412.6 L1113.7 412.7 L1116.5 412.7 L1119.2 412.7 L1121.9 412.7 L1124.7 412.7 L1127.4 412.7 L1130.1 412.7 L1132.9 412.8 L1135.6 412.8 L1138.3 412.8 L1141.1 412.8 L1143.8 412.8 L1146.5 412.8 L1149.3 412.8 L1152.0 412.8 L1154.7 412.8 L1157.5 412.8 L1160.2 412.9 L1162.9 412.9 L1165.7 412.9 L1168.4 412.9 L1171.1 412.9 L1173.9 412.9 L1176.6 412.9 L1179.3 412.9 L1182.1 412.9 L1184.8 412.9 L1187.5 412.9 L1190.3 412.9 L1193.0 412.9 L1195.7 412.9 L1198.5 412.9 L1201.2 412.9 L1203.9 412.9 L1206.7 412.9 L1209.4 412.9 L1212.1 412.9 L1214.9 412.9 L1217.6 412.9 L1220.3 412.9 L1223.1 412.9 L1225.8 412.9 L1228.5 412.9 L1231.3 412.8 L1234.0 412.8 L1236.7 412.8 L1239.5 412.8 L1242.2 412.8 L1244.9 412.8 L1247.7 412.8 L1250.4 412.8 L1253.1 412.8 L1255.9 412.8 L1258.6 412.8 L1261.3 412.7 L1264.1 412.7 L1266.8 412.7 L1269.5 412.7 L1272.3 412.7 L1275.0 412.7 L1277.7 412.7 L1280.5 412.6 L1283.2 412.6 L1285.9 412.6 L1288.7 412.6 L1291.4 412.6 L1294.1 412.6 L1296.9 412.5 L1299.6 412.5 L1302.3 412.5 L1305.1 412.5 L1307.8 412.5 L1310.5 412.4 L1313.3 412.4 L1316.0 412.4 L1318.7 412.4 L1321.5 412.3 L1324.2 412.3 L1326.9 412.3 L1329.7 412.3 L1332.4 412.2 L1335.1 412.2 L1337.9 412.2 L1340.6 412.2 L1343.3 412.1 L1346.1 412.1 L1348.8 412.1 L1351.5 412.1 L1354.3 412.0 L1357.0 412.0 L1359.7 412.0 L1362.5 412.0 L1365.2 411.9 L1367.9 411.9 L1370.7 411.9 L1373.4 411.8 L1376.1 411.8 L1378.9 411.8 L1381.6 411.7 L1384.3 411.7 L1387.1 411.7 L1389.8 411.6 L1392.5 411.6 L1395.3 411.6 L1398.0 411.5 L1400.7 411.5 L1403.5 411.5 L1406.2 411.4 L1408.9 411.4 L1411.7 411.4 L1414.4 411.3 L1417.1 411.3 L1419.9 411.2 L1422.6 411.2 L1425.3 411.2 L1428.1 411.1 L1430.8 411.1 L1433.5 411.0 L1436.3 411.0 L1439.0 411.0 L1441.7 410.9 L1444.5 410.9 L1447.2 410.8 L1449.9 410.8 L1452.7 410.8 L1455.4 410.7 L1458.1 410.7 L1460.9 410.6 L1463.6 410.6 L1466.3 410.5 L1469.1 410.5 L1471.8 410.5 L1474.5 410.4 L1477.3 410.4 L1480.0 410.3 L1482.7 410.3 L1485.5 410.2 L1488.2 410.2 L1490.9 410.1 L1493.7 410.1 L1496.4 410.0 L1499.1 410.0 L1501.9 409.9 L1504.6 409.9 L1507.3 409.8 L1510.0 409.8 L1512.8 409.7 L1515.5 409.7 L1518.2 409.6 L1521.0 409.6 L1523.7 409.5 L1526.4 409.5 L1529.2 409.4 L1531.0 409.4 L1531.0 410.5 L1528.4 410.6 L1525.8 410.7 L1523.3 410.7 L1520.7 410.8 L1518.1 410.9 L1515.5 411.0 L1513.0 411.1 L1510.4 411.1 L1507.8 411.2 L1505.2 411.3 L1502.6 411.4 L1500.1 411.5 L1497.5 411.5 L1494.9 411.6 L1492.3 411.7 L1489.8 411.7 L1487.2 411.8 L1484.6 411.9 L1482.0 412.0 L1479.4 412.0 L1476.9 412.1 L1474.3 412.2 L1471.7 412.2 L1469.1 412.3 L1466.6 412.4 L1464.0 412.4 L1461.4 412.5 L1458.8 412.6 L1456.2 412.6 L1453.7 412.7 L1451.1 412.7 L1448.5 412.8 L1445.9 412.9 L1443.4 412.9 L1440.8 413.0 L1438.2 413.0 L1435.6 413.1 L1433.0 413.2 L1430.5 413.2 L1427.9 413.3 L1425.3 413.3 L1422.7 413.4 L1420.2 413.4 L1417.6 413.5 L1415.0 413.5 L1412.4 413.6 L1409.8 413.6 L1407.3 413.7 L1404.7 413.8 L1402.1 413.8 L1399.5 413.9 L1397.0 413.9 L1394.4 414.0 L1391.8 414.0 L1389.2 414.0 L1386.6 414.1 L1384.1 414.1 L1381.5 414.2 L1378.9 414.2 L1376.3 414.3 L1373.7 414.3 L1371.2 414.4 L1368.6 414.4 L1366.0 414.5 L1363.4 414.5 L1360.9 414.5 L1358.3 414.6 L1355.7 414.6 L1353.1 414.7 L1350.5 414.7 L1348.0 414.7 L1345.4 414.8 L1342.8 414.8 L1340.2 414.9 L1337.6 414.9 L1335.1 414.9 L1332.5 415.0 L1329.9 415.0 L1327.3 415.1 L1324.8 415.1 L1322.2 415.1 L1319.6 415.2 L1317.0 415.2 L1314.4 415.2 L1311.9 415.3 L1309.3 415.3 L1306.7 415.3 L1304.1 415.4 L1301.5 415.4 L1299.0 415.4 L1296.4 415.5 L1293.8 415.5 L1291.2 415.5 L1288.7 415.6 L1286.1 415.6 L1283.5 415.6 L1280.9 415.7 L1278.3 415.7 L1275.8 415.7 L1273.2 415.8 L1270.6 415.8 L1268.0 415.8 L1265.4 415.9 L1262.9 415.9 L1260.3 415.9 L1257.7 416.0 L1255.1 416.0 L1252.6 416.0 L1250.0 416.0 L1247.4 416.1 L1244.8 416.1 L1242.2 416.1 L1239.7 416.2 L1237.1 416.2 L1234.5 416.2 L1231.9 416.2 L1229.3 416.3 L1226.8 416.3 L1224.2 416.3 L1221.6 416.4 L1219.0 416.4 L1216.5 416.4 L1213.9 416.4 L1211.3 416.5 L1208.7 416.5 L1206.1 416.5 L1203.6 416.6 L1201.0 416.6 L1198.4 416.6 L1195.8 416.6 L1193.2 416.7 L1190.7 416.7 L1188.1 416.7 L1185.5 416.7 L1182.9 416.8 L1180.4 416.8 L1177.8 416.8 L1175.2 416.8 L1172.6 416.9 L1170.0 416.9 L1167.5 416.9 L1164.9 417.0 L1162.3 417.0 L1159.7 417.0 L1157.1 417.0 L1154.6 417.1 L1152.0 417.1 L1149.4 417.1 L1146.8 417.1 L1144.3 417.2 L1141.7 417.2 L1139.1 417.2 L1136.5 417.3 L1133.9 417.3 L1131.4 417.3 L1128.8 417.3 L1126.2 417.4 L1123.6 417.4 L1121.0 417.4 L1118.5 417.5 L1115.9 417.5 L1113.3 417.5 L1110.7 417.5 L1108.2 417.6 L1105.6 417.6 L1103.0 417.6 L1100.4 417.7 L1097.8 417.7 L1095.3 417.7 L1092.7 417.7 L1090.1 417.8 L1087.5 417.8 L1084.9 417.8 L1082.4 417.9 L1079.8 417.9 L1077.2 417.9 L1074.6 418.0 L1072.1 418.0 L1069.5 418.0 L1066.9 418.1 L1064.3 418.1 L1061.7 418.1 L1059.2 418.2 L1056.6 418.2 L1054.0 418.2 L1051.4 418.3 L1048.8 418.3 L1046.3 418.3 L1043.7 418.4 L1041.1 418.4 L1038.5 418.4 L1036.0 418.5 L1033.4 418.5 L1030.8 418.5 L1028.2 418.6 L1025.6 418.6 L1023.1 418.7 L1020.5 418.7 L1017.9 418.7 L1015.3 418.8 L1012.8 418.8 L1010.2 418.8 L1007.6 418.9 L1005.0 418.9 L1002.4 419.0 L999.9 419.0 L997.3 419.0 L994.7 419.1 L992.1 419.1 L989.5 419.2 L987.0 419.2 L984.4 419.3 L981.8 419.3 L979.2 419.3 L976.7 419.4 L974.1 419.4 L971.5 419.5 L968.9 419.5 L966.3 419.6 L963.8 419.6 L961.2 419.7 L958.6 419.7 L956.0 419.8 L953.5 419.8 L950.9 419.9 L948.3 419.9 L945.7 420.0 L943.1 420.0 L940.6 420.1 L938.0 420.1 L935.4 420.2 L932.8 420.2 L930.3 420.3 L927.7 420.3 L925.1 420.4 L922.5 420.5 L919.9 420.5 L917.4 420.6 L914.8 420.6 L912.2 420.7 L909.6 420.8 L907.1 420.8 L904.5 420.9 L901.9 420.9 L899.3 421.0 L896.7 421.1 L894.2 421.1 L891.6 421.2 L889.0 421.2 L886.4 421.3 L883.9 421.4 L881.3 421.4 L878.7 421.5 L876.1 421.6 L873.6 421.7 L871.0 421.7 L868.4 421.8 L865.8 421.9 L863.2 421.9 L860.7 422.0 L858.1 422.1 L855.5 422.2 L852.9 422.2 L850.4 422.3 L847.8 422.4 L845.2 422.5 L842.6 422.5 L840.0 422.6 L837.5 422.7 L834.9 422.8 L832.3 422.9 L829.7 422.9 L827.2 423.0 L824.6 423.1 L822.0 423.2 L819.4 423.3 L816.9 423.4 L814.3 423.4 L811.7 423.5 L809.1 423.6 L806.5 423.7 L804.0 423.8 L801.4 423.9 L798.8 424.0 L796.2 424.1 L793.7 424.2 L791.1 424.3 L788.5 424.4 L785.9 424.5 L783.4 424.6 L780.8 424.7 L778.2 424.8 L775.6 424.9 L773.1 425.0 L770.5 425.1 L767.9 425.2 L765.3 425.3 L762.7 425.4 L760.2 425.5 L757.6 425.6 L755.0 425.7 L752.4 425.8 L749.9 425.9 L747.3 426.0 L744.7 426.1 L742.1 426.2 L739.6 426.4 L737.0 426.5 L734.4 426.6 L731.8 426.7 L729.3 426.8 L726.7 426.9 L724.1 427.1 L721.5 427.2 L719.0 427.3 L716.4 427.4 L713.8 427.6 L711.2 427.7 L708.7 427.8 L706.1 427.9 L703.5 428.1 L700.9 428.2 L698.4 428.3 L695.8 428.5 L693.2 428.6 L690.6 428.7 L688.1 428.9 L685.5 429.0 L682.9 429.1 L680.3 429.3 L677.7 429.4 L675.2 429.6 L672.6 429.7 L670.0 429.9 L667.4 430.0 L664.9 430.2 L662.3 430.3 L659.7 430.4 L657.1 430.6 L654.6 430.8 L652.0 430.9 L649.4 431.1 L646.8 431.2 L644.3 431.4 L641.7 431.5 L639.1 431.7 L636.5 431.8 L634.0 432.0 L631.4 432.2 L628.8 432.3 L626.3 432.5 L623.7 432.7 L621.1 432.9 L618.5 433.0 L616.0 433.2 L613.4 433.4 L610.8 433.6 L608.2 433.8 L605.7 434.0 L603.1 434.2 L600.5 434.4 L598.0 434.6 L595.4 434.8 L592.8 435.1 L590.3 435.3 L587.7 435.6 L585.1 435.8 L582.6 436.1 L580.0 436.3 L577.4 436.6 L574.9 436.9 L572.3 437.2 L569.7 437.5 L567.2 437.8 L564.6 438.1 L562.1 438.4 L559.5 438.8 L557.0 439.1 L554.4 439.5 L551.9 439.9 L549.3 440.4 L546.8 440.9 L544.4 441.5 L541.9 442.3 L539.5 443.1 L537.1 444.0 L534.8 445.0 L532.5 446.1 L530.1 447.2 L527.8 448.4 L525.5 449.6 L523.2 450.7 L520.9 451.9 L518.5 453.0 L516.2 454.0 L513.8 455.0 L511.4 456.1 L509.0 457.1 L506.7 458.1 L504.4 459.2 L502.1 460.4 L499.8 461.6 L497.6 462.9 L495.5 464.3 L493.4 465.8 L491.3 467.3 L489.3 468.9 L487.3 470.5 L485.4 472.2 L483.5 474.0 L481.6 475.8 L479.8 477.6 L478.0 479.5 L476.3 481.4 L474.6 483.3 L472.9 485.3 L471.3 487.3 L469.7 489.3 L468.1 491.4 L466.6 493.4 L465.1 495.5 L463.6 497.6 L462.1 499.8 L460.7 501.9 L459.3 504.1 L458.0 506.3 L456.6 508.5 L455.3 510.7 L454.0 512.9 L452.8 515.1 L451.5 517.4 L450.3 519.7 L449.1 521.9 L447.9 524.2 L446.7 526.5 L445.6 528.8 L444.4 531.1 L443.3 533.5 L442.2 535.8 L441.1 538.1 L440.0 540.5 L438.9 542.8 L437.9 545.2 L436.8 547.5 L435.7 549.9 L434.7 552.3 L433.7 554.6 L432.6 557.0 L431.6 559.4 L430.6 561.7 L429.6 564.1 L428.6 566.5 L427.6 568.9 L426.6 571.3 L425.6 573.6 L424.6 576.0 L423.7 578.4 L422.7 580.8 L421.8 583.2 L420.9 585.6 L420.0 588.0 L419.1 590.4 L418.2 592.9 L417.3 595.3 L416.4 597.7 L415.6 600.1 L414.7 602.6 L413.9 605.0 L413.1 607.4 L412.3 609.9 L411.5 612.3 L410.7 614.8 L410.0 617.3 L409.3 619.7 L408.5 622.2 L407.8 624.7 L407.1 627.2 L406.5 629.7 L405.8 632.1 L405.1 634.6 L404.5 637.1 L403.8 639.6 L403.2 642.1 L402.5 644.6 L401.8 647.1 L401.1 649.6 L400.4 652.0 L399.6 654.5 L398.8 656.9 L398.0 659.4 L397.1 661.8 L396.2 664.2 L395.3 666.6 L394.3 669.0 L393.2 671.3 L392.1 673.6 L391.0 676.0 L389.7 678.2 L388.4 680.5 L387.5 682.0 Z" stroke="#ff00ff"/>
<path d="M389.5 762.0 L389.6 759.1 L389.7 756.2 L389.8 753.3 L389.9 750.3 L390.0 747.4 L390.1 744.5 L390.3 741.6 L390.4 738.7 L390.5 735.8 L390.6 732.8 L390.8 729.9 L390.9 727.0 L391.0 724.1 L391.2 721.2 L391.3 718.3 L391.5 715.4 L391.6 712.4 L391.8 709.5 L391.9 706.6 L392.1 703.7 L392.3 700.8 L392.4 697.9 L392.6 695.0 L392.8 692.1 L393.0 689.1 L393.1 686.2 L393.3 683.3 L393.5 680.4 L393.7 677.5 L393.9 674.6 L394.1 671.7 L394.3 668.8 L394.5 665.8 L394.7 662.9 L395.0 660.0 L395.2 657.1 L395.4 654.2 L395.6 651.3 L395.9 648.4 L396.1 645.5 L396.3 642.6 L396.6 639.7 L396.8 636.8 L397.1 633.8 L397.3 630.9 L397.6 628.0 L397.8 625.1 L398.1 622.2 L398.4 619.3 L398.6 616.4 L398.9 613.5 L399.2 610.6 L399.5 607.7 L399.8 604.8 L400.1 601.9 L400.4 599.0 L400.7 596.1 L401.0 593.2 L401.3 590.3 L401.6 587.4 L401.9 584.5 L402.3 581.6 L402.6 578.7 L402.9 575.8 L403.3 572.9 L403.6 570.0 L403.9 567.1 L404.3 564.2 L404.6 561.3 L405.0 558.4 L405.4 555.5 L405.7 552.6 L406.1 549.7 L406.5 546.8 L406.9 543.9 L407.3 541.0 L407.6 538.1 L408.0 535.2 L408.4 532.3 L408.8 529.5 L409.3 526.6 L409.7 523.7 L410.1 520.8 L410.5 517.9 L411.0 515.0 L411.4 512.1 L411.9 509.2 L412.3 506.4 L412.8 503.5 L413.3 500.6 L413.8 497.7 L414.3 494.9 L414.9 492.0 L415.5 489.2 L416.1 486.3 L416.7 483.5 L417.3 480.6 L418.0 477.8 L418.7 475.0 L419.4 472.1 L420.2 469.3 L421.0 466.5 L421.8 463.7 L422.6 460.9 L423.5 458.2 L424.4 455.4 L425.4 452.7 L426.3 449.9 L427.3 447.2 L428.2 444.4 L429.1 441.7 L430.0 438.9 L430.8 436.1 L431.5 433.3 L432.3 430.4 L433.0 427.6 L433.8 424.8 L434.7 422.0 L435.6 419.3 L436.7 416.6 L437.8 413.9 L439.1 411.3 L440.5 408.8 L442.1 406.4 L443.9 404.1 L445.8 401.9 L447.9 399.9 L450.1 398.1 L452.5 396.4 L455.0 394.9 L457.7 393.6 L460.4 392.4 L463.2 391.5 L466.1 390.8 L469.0 390.3 L471.9 390.0 L474.8 389.9 L477.6 390.0 L480.5 390.3 L483.4 390.7 L486.2 391.2 L489.1 391.9 L491.9 392.6 L494.8 393.3 L497.6 394.2 L500.5 395.0 L503.3 395.8 L506.2 396.6 L509.0 397.3 L511.9 398.0 L514.7 398.7 L517.6 399.3 L520.4 399.9 L523.3 400.5 L526.2 401.1 L529.1 401.6 L531.9 402.1 L534.8 402.6 L537.7 403.0 L540.6 403.5 L543.5 403.9 L546.3 404.2 L549.2 404.6 L552.1 404.9 L555.0 405.2 L557.9 405.5 L560.8 405.8 L563.7 406.0 L566.6 406.3 L569.5 406.5 L572.4 406.7 L575.3 406.9 L578.2 407.0 L581.1 407.2 L584.0 407.3 L586.9 407.4 L589.8 407.5 L592.8 407.6 L595.7 407.7 L598.6 407.8 L601.5 407.9 L604.4 407.9 L607.3 408.0 L610.2 408.0 L613.2 408.0 L616.1 408.1 L619.0 408.1 L621.9 408.1 L624.8 408.1 L627.8 408.1 L630.7 408.2 L633.6 408.2 L636.5 408.2 L639.4 408.2 L642.4 408.2 L645.3 408.2 L648.2 408.2 L651.1 408.3 L654.0 408.3 L657.0 408.3 L659.9 408.3 L662.8 408.3 L665.7 408.3 L668.6 408.4 L671.6 408.4 L674.5 408.4 L677.4 408.4 L680.3 408.5 L683.2 408.5 L686.1 408.5 L689.1 408.5 L692.0 408.6 L694.9 408.6 L697.8 408.6 L700.7 408.7 L703.7 408.7 L706.6 408.7 L709.5 408.8 L712.4 408.8 L715.3 408.8 L718.2 408.9 L721.2 408.9 L724.1 408.9 L727.0 409.0 L729.9 409.0 L732.8 409.1 L735.8 409.1 L738.7 409.1 L741.6 409.2 L744.5 409.2 L747.4 409.2 L750.3 409.3 L753.3 409.3 L756.2 409.4 L759.1 409.4 L762.0 409.5 L764.9 409.5 L767.9 409.5 L770.8 409.6 L773.7 409.6 L776.6 409.7 L779.5 409.7 L782.4 409.8 L785.4 409.8 L788.3 409.8 L791.2 409.9 L794.1 409.9 L797.0 410.0 L799.9 410.0 L802.9 410.1 L805.8 410.1 L808.7 410.1 L811.6 410.2 L814.5 410.2 L817.5 410.3 L820.4 410.3 L823.3 410.4 L826.2 410.4 L829.1 410.4 L832.0 410.5 L835.0 410.5 L837.9 410.6 L840.8 410.6 L843.7 410.6 L846.6 410.7 L849.5 410.7 L852.5 410.8 L855.4 410.8 L858.3 410.8 L861.2 410.9 L864.1 410.9 L867.1 410.9 L870.0 411.0 L872.9 411.0 L875.8 411.1 L878.7 411.1 L881.6 411.1 L884.6 411.2 L887.5 411.2 L890.4 411.2 L893.3 411.2 L896.2 411.3 L899.2 411.3 L902.1 411.3 L905.0 411.4 L907.9 411.4 L910.8 411.4 L913.7 411.4 L916.7 411.5 L919.6 411.5 L922.5 411.5 L925.4 411.5 L928.3 411.6 L931.3 411.6 L934.2 411.6 L937.1 411.6 L940.0 411.6 L942.9 411.6 L945.8 411.7 L948.8 411.7 L951.7 411.7 L954.6 411.7 L957.5 411.7 L960.4 411.7 L963.4 411.7 L966.3 411.8 L969.2 411.8 L972.1 411.8 L975.0 411.8 L978.0 411.8 L980.9 411.8 L983.8 411.8 L986.7 411.8 L989.6 411.8 L992.5 411.8 L995.5 411.8 L998.4 411.8 L1001.3 411.8 L1004.2 411.8 L1007.1 411.8 L1010.1 411.8 L1013.0 411.8 L1015.9 411.8 L1018.8 411.8 L1021.7 411.8 L1024.7 411.8 L1027.6 411.8 L1030.5 411.8 L1033.4 411.7 L1036.3 411.7 L1039.2 411.7 L1042.2 411.7 L1045.1 411.7 L1048.0 411.7 L1050.9 411.7 L1053.8 411.7 L1056.8 411.6 L1059.7 411.6 L1062.6 411.6 L1065.5 411.6 L1068.4 411.6 L1071.3 411.5 L1074.3 411.5 L1077.2 411.5 L1080.1 411.5 L1083.0 411.4 L1085.9 411.4 L1088.9 411.4 L1091.8 411.4 L1094.7 411.3 L1097.6 411.3 L1100.5 411.3 L1103.4 411.2 L1106.4 411.2 L1109.3 411.2 L1112.2 411.1 L1115.1 411.1 L1118.0 411.1 L1121.0 411.0 L1123.9 411.0 L1126.8 411.0 L1129.7 410.9 L1132.6 410.9 L1135.5 410.8 L1138.5 410.8 L1141.4 410.7 L1144.3 410.7 L1147.2 410.7 L1150.1 410.6 L1153.1 410.6 L1156.0 410.5 L1158.9 410.5 L1161.8 410.4 L1164.7 410.4 L1167.6 410.3 L1170.6 410.3 L1173.5 410.2 L1176.4 410.2 L1179.3 410.1 L1182.2 410.1 L1185.1 410.0 L1188.1 409.9 L1191.0 409.9 L1193.9 409.8 L1196.8 409.8 L1199.7 409.7 L1202.6 409.7 L1205.6 409.6 L1208.5 409.5 L1211.4 409.5 L1214.3 409.4 L1217.2 409.4 L1220.2 409.3 L1223.1 409.2 L1226.0 409.2 L1228.9 409.1 L1231.8 409.0 L1234.7 409.0 L1237.7 408.9 L1240.6 408.9 L1243.5 408.8 L1246.4 408.7 L1249.3 408.7 L1252.2 408.6 L1255.2 408.5 L1258.1 408.4 L1261.0 408.4 L1263.9 408.3 L1266.8 408.2 L1269.7 408.2 L1272.7 408.1 L1275.6 408.0 L1278.5 408.0 L1281.4 407.9 L1284.3 407.8 L1287.3 407.7 L1290.2 407.7 L1293.1 407.6 L1296.0 407.5 L1298.9 407.5 L1301.8 407.4 L1304.8 407.3 L1307.7 407.2 L1310.6 407.2 L1313.5 407.1 L1316.4 407.0 L1319.3 406.9 L1322.3 406.9 L1325.2 406.8 L1328.1 406.7 L1331.0 406.6 L1333.9 406.6 L1336.9 406.5 L1339.8 406.4 L1342.7 406.3 L1345.6 406.2 L1348.5 406.2 L1351.4 406.1 L1354.4 406.0 L1357.3 405.9 L1360.2 405.9 L1363.1 405.8 L1366.0 405.7 L1368.9 405.6 L1371.9 405.6 L1374.8 405.5 L1377.7 405.4 L1380.6 405.3 L1383.5 405.2 L1386.5 405.2 L1389.4 405.1 L1392.3 405.0 L1395.2 404.9 L1398.1 404.8 L1401.0 404.8 L1404.0 404.7 L1406.9 404.6 L1409.8 404.5 L1412.7 404.4 L1415.6 404.3 L1418.6 404.2 L1421.5 404.1 L1424.4 404.0 L1427.3 403.9 L1430.2 403.8 L1433.1 403.7 L1436.0 403.5 L1439.0 403.4 L1441.9 403.3 L1444.8 403.1 L1447.7 403.0 L1450.6 402.8 L1453.5 402.7 L1456.4 402.5 L1459.4 402.4 L1462.3 402.2 L1465.2 402.0 L1468.1 401.8 L1471.0 401.6 L1473.9 401.4 L1476.8 401.2 L1479.7 401.0 L1482.6 400.7 L1485.5 400.5 L1488.5 400.3 L1491.4 400.0 L1494.3 399.7 L1497.2 399.5 L1500.1 399.2 L1503.0 398.9 L1505.9 398.6 L1508.8 398.2 L1511.7 397.9 L1514.6 397.6 L1517.5 397.2 L1520.4 396.8 L1523.3 396.5 L1526.2 396.1 L1529.1 395.7 L1531.0 395.4 L1531.0 399.8 L1528.3 400.1 L1525.6 400.4 L1523.0 400.7 L1520.3 401.0 L1517.6 401.2 L1514.9 401.5 L1512.2 401.7 L1509.5 402.0 L1506.9 402.2 L1504.2 402.4 L1501.5 402.6 L1498.8 402.8 L1496.1 403.0 L1493.4 403.2 L1490.7 403.4 L1488.1 403.5 L1485.4 403.7 L1482.7 403.8 L1480.0 404.0 L1477.3 404.1 L1474.6 404.2 L1471.9 404.3 L1469.2 404.5 L1466.6 404.6 L1463.9 404.7 L1461.2 404.8 L1458.5 404.9 L1455.8 404.9 L1453.1 405.0 L1450.4 405.1 L1447.7 405.2 L1445.0 405.2 L1442.3 405.3 L1439.7 405.4 L1437.0 405.4 L1434.3 405.5 L1431.6 405.6 L1428.9 405.6 L1426.2 405.7 L1423.5 405.7 L1420.8 405.8 L1418.1 405.8 L1415.4 405.9 L1412.7 405.9 L1410.0 405.9 L1407.3 406.0 L1404.7 406.0 L1402.0 406.1 L1399.3 406.1 L1396.6 406.2 L1393.9 406.2 L1391.2 406.3 L1388.5 406.4 L1385.8 406.4 L1383.1 406.5 L1380.4 406.5 L1377.7 406.6 L1375.1 406.7 L1372.4 406.7 L1369.7 406.8 L1367.0 406.9 L1364.3 407.0 L1361.6 407.1 L1358.9 407.2 L1356.2 407.2 L1353.5 407.3 L1350.8 407.4 L1348.1 407.5 L1345.5 407.6 L1342.8 407.7 L1340.1 407.8 L1337.4 407.9 L1334.7 408.1 L1332.0 408.2 L1329.3 408.3 L1326.6 408.4 L1323.9 408.5 L1321.2 408.6 L1318.6 408.7 L1315.9 408.9 L1313.2 409.0 L1310.5 409.1 L1307.8 409.2 L1305.1 409.4 L1302.4 409.5 L1299.7 409.6 L1297.0 409.7 L1294.4 409.9 L1291.7 410.0 L1289.0 410.1 L1286.3 410.3 L1283.6 410.4 L1280.9 410.5 L1278.2 410.6 L1275.5 410.8 L1272.8 410.9 L1270.2 411.0 L1267.5 411.2 L1264.8 411.3 L1262.1 411.4 L1259.4 411.6 L1256.7 411.7 L1254.0 411.8 L1251.3 412.0 L1248.6 412.1 L1246.0 412.2 L1243.3 412.3 L1240.6 412.5 L1237.9 412.6 L1235.2 412.7 L1232.5 412.8 L1229.8 413.0 L1227.1 413.1 L1224.4 413.2 L1221.8 413.3 L1219.1 413.4 L1216.4 413.6 L1213.7 413.7 L1211.0 413.8 L1208.3 413.9 L1205.6 414.0 L1202.9 414.1 L1200.2 414.2 L1197.6 414.3 L1194.9 414.4 L1192.2 414.5 L1189.5 414.6 L1186.8 414.7 L1184.1 414.8 L1181.4 414.9 L1178.7 415.0 L1176.0 415.1 L1173.3 415.2 L1170.7 415.2 L1168.0 415.3 L1165.3 415.4 L1162.6 415.5 L1159.9 415.6 L1157.2 415.6 L1154.5 415.7 L1151.8 415.8 L1149.1 415.9 L1146.4 415.9 L1143.7 416.0 L1141.0 416.1 L1138.4 416.1 L1135.7 416.2 L1133.0 416.3 L1130.3 416.3 L1127.6 416.4 L1124.9 416.4 L1122.2 416.5 L1119.5 416.5 L1116.8 416.6 L1114.1 416.7 L1111.4 416.7 L1108.8 416.8 L1106.1 416.8 L1103.4 416.9 L1100.7 416.9 L1098.0 417.0 L1095.3 417.0 L1092.6 417.1 L1089.9 417.1 L1087.2 417.2 L1084.5 417.2 L1081.8 417.2 L1079.1 417.3 L1076.4 417.3 L1073.8 417.4 L1071.1 417.4 L1068.4 417.5 L1065.7 417.5 L1063.0 417.5 L1060.3 417.6 L1057.6 417.6 L1054.9 417.7 L1052.2 417.7 L1049.5 417.7 L1046.8 417.8 L1044.1 417.8 L1041.5 417.8 L1038.8 417.9 L1036.1 417.9 L1033.4 418.0 L1030.7 418.0 L1028.0 418.0 L1025.3 418.1 L1022.6 418.1 L1019.9 418.2 L1017.2 418.2 L1014.5 418.2 L1011.8 418.3 L1009.1 418.3 L1006.5 418.3 L1003.8 418.4 L1001.1 418.4 L998.4 418.5 L995.7 418.5 L993.0 418.5 L990.3 418.6 L987.6 418.6 L984.9 418.7 L982.2 418.7 L979.5 418.8 L976.8 418.8 L974.2 418.9 L971.5 418.9 L968.8 418.9 L966.1 419.0 L963.4 419.0 L960.7 419.1 L958.0 419.1 L955.3 419.2 L952.6 419.2 L949.9 419.3 L947.2 419.3 L944.6 419.4 L941.9 419.5 L939.2 419.5 L936.5 419.6 L933.8 419.6 L931.1 419.7 L928.4 419.8 L925.7 419.8 L923.0 419.9 L920.3 420.0 L917.6 420.0 L915.0 420.1 L912.3 420.2 L909.6 420.2 L906.9 420.3 L904.2 420.4 L901.5 420.5 L898.8 420.5 L896.1 420.6 L893.4 420.7 L890.7 420.8 L888.1 420.9 L885.4 420.9 L882.7 421.0 L880.0 421.1 L877.3 421.2 L874.6 421.3 L871.9 421.4 L869.2 421.5 L866.5 421.6 L863.9 421.7 L861.2 421.8 L858.5 421.9 L855.8 422.0 L853.1 422.1 L850.4 422.3 L847.7 422.4 L845.0 422.5 L842.3 422.6 L839.7 422.7 L837.0 422.9 L834.3 423.0 L831.6 423.1 L828.9 423.3 L826.2 423.4 L823.5 423.5 L820.8 423.7 L818.2 423.8 L815.5 424.0 L812.8 424.1 L810.1 424.3 L807.4 424.4 L804.7 424.6 L802.0 424.8 L799.4 424.9 L796.7 425.1 L794.0 425.3 L791.3 425.5 L788.6 425.6 L785.9 425.8 L783.2 426.0 L780.6 426.2 L777.9 426.4 L775.2 426.6 L772.5 426.8 L769.8 427.0 L767.1 427.2 L764.4 427.4 L761.8 427.6 L759.1 427.9 L756.4 428.1 L753.7 428.3 L751.0 428.5 L748.3 428.8 L745.7 429.0 L743.0 429.3 L740.3 429.5 L737.6 429.7 L734.9 430.0 L732.3 430.2 L729.6 430.5 L726.9 430.8 L724.2 431.0 L721.5 431.3 L718.9 431.6 L716.2 431.8 L713.5 432.1 L710.8 432.4 L708.1 432.7 L705.5 433.0 L702.8 433.3 L700.1 433.6 L697.4 433.9 L694.8 434.2 L692.1 434.5 L689.4 434.8 L686.7 435.1 L684.1 435.4 L681.4 435.7 L678.7 436.1 L676.0 436.4 L673.4 436.7 L670.7 437.1 L668.0 437.4 L665.3 437.7 L662.7 438.1 L660.0 438.4 L657.3 438.8 L654.7 439.2 L652.0 439.5 L649.3 439.9 L646.7 440.2 L644.0 440.6 L641.3 441.0 L638.7 441.4 L636.0 441.8 L633.3 442.1 L630.7 442.5 L628.0 442.9 L625.3 443.3 L622.7 443.7 L620.0 444.1 L617.4 444.5 L614.7 445.0 L612.0 445.4 L609.4 445.8 L606.7 446.2 L604.1 446.6 L601.4 447.1 L598.7 447.5 L596.1 447.9 L593.4 448.4 L590.8 448.8 L588.1 449.3 L585.5 449.7 L582.8 450.2 L580.2 450.6 L577.5 451.1 L574.9 451.6 L572.2 452.1 L569.6 452.6 L567.0 453.1 L564.3 453.6 L561.7 454.2 L559.1 454.8 L556.5 455.5 L553.9 456.2 L551.3 456.9 L548.8 457.7 L546.2 458.5 L543.7 459.4 L541.2 460.4 L538.7 461.5 L536.2 462.6 L533.8 463.7 L531.3 464.9 L528.9 466.1 L526.5 467.4 L524.1 468.7 L521.7 469.9 L519.3 471.2 L516.9 472.4 L514.6 473.6 L512.2 474.9 L509.9 476.2 L507.7 477.6 L505.5 479.0 L503.3 480.5 L501.2 482.2 L499.2 483.8 L497.2 485.6 L495.2 487.4 L493.3 489.2 L491.4 491.1 L489.6 493.0 L487.8 495.0 L486.0 497.0 L484.3 499.1 L482.6 501.1 L480.9 503.2 L479.2 505.4 L477.6 507.5 L476.0 509.7 L474.5 511.9 L472.9 514.2 L471.4 516.4 L469.9 518.7 L468.5 521.0 L467.0 523.3 L465.6 525.6 L464.2 527.9 L462.9 530.3 L461.5 532.6 L460.2 535.0 L458.9 537.3 L457.6 539.7 L456.3 542.1 L455.1 544.5 L453.9 546.9 L452.7 549.3 L451.5 551.7 L450.3 554.1 L449.2 556.6 L448.1 559.0 L446.9 561.4 L445.8 563.9 L444.8 566.4 L443.7 568.8 L442.6 571.3 L441.6 573.8 L440.6 576.3 L439.6 578.8 L438.6 581.3 L437.6 583.8 L436.7 586.3 L435.7 588.8 L434.8 591.3 L433.9 593.9 L433.0 596.4 L432.1 598.9 L431.2 601.5 L430.3 604.0 L429.4 606.6 L428.6 609.1 L427.7 611.7 L426.9 614.2 L426.1 616.8 L425.3 619.4 L424.5 621.9 L423.7 624.5 L422.9 627.1 L422.1 629.6 L421.4 632.2 L420.6 634.8 L419.8 637.4 L419.1 640.0 L418.4 642.6 L417.6 645.2 L416.9 647.8 L416.2 650.4 L415.5 653.0 L414.8 655.6 L414.1 658.2 L413.4 660.8 L412.8 663.4 L412.1 666.0 L411.4 668.6 L410.8 671.2 L410.1 673.8 L409.5 676.4 L408.8 679.0 L408.2 681.6 L407.6 684.3 L406.9 686.9 L406.3 689.5 L405.7 692.1 L405.1 694.7 L404.5 697.4 L403.8 700.0 L403.2 702.6 L402.6 705.2 L402.0 707.8 L401.4 710.4 L400.8 713.1 L400.2 715.7 L399.6 718.3 L399.0 720.9 L398.4 723.5 L397.8 726.2 L397.2 728.8 L396.6 731.4 L396.0 734.0 L395.4 736.7 L394.8 739.3 L394.2 741.9 L393.6 744.5 L393.0 747.1 L392.4 749.8 L391.8 752.4 L391.2 755.0 L390.6 757.6 L389.9 760.3 L389.5 762.0 Z" stroke="#008000"/>
<path d="M390.0 571.0 L390.3 568.5 L390.6 566.0 L390.8 563.6 L391.1 561.1 L391.4 558.6 L391.7 556.1 L392.0 553.6 L392.3 551.1 L392.6 548.6 L392.9 546.0 L393.2 543.5 L393.5 541.0 L393.8 538.5 L394.2 536.0 L394.5 533.5 L394.9 531.0 L395.2 528.5 L395.6 526.0 L396.0 523.5 L396.4 521.0 L396.8 518.5 L397.3 516.1 L397.7 513.6 L398.2 511.1 L398.7 508.7 L399.2 506.2 L399.7 503.8 L400.2 501.3 L400.8 498.9 L401.4 496.5 L402.0 494.1 L402.6 491.7 L403.3 489.3 L404.0 486.9 L404.7 484.6 L405.4 482.2 L406.1 479.8 L406.9 477.5 L407.7 475.1 L408.6 472.7 L409.4 470.4 L410.3 468.0 L411.2 465.7 L412.1 463.3 L413.1 461.0 L414.1 458.6 L415.1 456.3 L416.2 453.9 L417.2 451.5 L418.4 449.2 L419.5 446.8 L420.7 444.5 L421.9 442.2 L423.2 440.0 L424.5 437.8 L425.9 435.6 L427.4 433.5 L428.8 431.4 L430.4 429.4 L432.0 427.5 L433.7 425.7 L435.4 424.0 L437.3 422.3 L439.1 420.8 L441.1 419.3 L443.1 418.0 L445.2 416.8 L447.4 415.7 L449.6 414.7 L451.8 413.9 L454.2 413.1 L456.5 412.4 L458.9 411.8 L461.3 411.3 L463.8 410.9 L466.3 410.5 L468.8 410.2 L471.3 409.9 L473.8 409.7 L476.4 409.5 L478.9 409.4 L481.4 409.2 L484.0 409.2 L486.5 409.1 L489.0 409.1 L491.6 409.0 L494.1 409.1 L496.6 409.1 L499.1 409.1 L501.7 409.2 L504.2 409.3 L506.7 409.4 L509.2 409.5 L511.7 409.6 L514.2 409.8 L516.7 409.9 L519.3 410.1 L521.8 410.3 L524.3 410.5 L526.8 410.7 L529.3 410.9 L531.8 411.1 L534.3 411.3 L536.8 411.5 L539.3 411.7 L541.8 411.9 L544.3 412.1 L546.8 412.3 L549.3 412.5 L551.8 412.7 L554.3 412.9 L556.8 413.1 L559.3 413.2 L561.8 413.4 L564.3 413.6 L566.8 413.7 L569.3 413.8 L571.9 414.0 L574.4 414.1 L576.9 414.2 L579.4 414.3 L581.9 414.4 L584.4 414.5 L586.9 414.6 L589.4 414.6 L591.9 414.7 L594.4 414.8 L596.9 414.8 L599.5 414.9 L602.0 414.9 L604.5 414.9 L607.0 415.0 L609.5 415.0 L612.0 415.0 L614.5 415.0 L617.0 415.0 L619.6 415.0 L622.1 415.0 L624.6 415.0 L627.1 415.0 L629.6 415.0 L632.1 415.0 L634.6 415.0 L637.2 415.0 L639.7 414.9 L642.2 414.9 L644.7 414.9 L647.2 414.9 L649.7 414.8 L652.2 414.8 L654.8 414.8 L657.3 414.7 L659.8 414.7 L662.3 414.7 L664.8 414.6 L667.3 414.6 L669.9 414.6 L672.4 414.5 L674.9 414.5 L677.4 414.5 L679.9 414.5 L682.4 414.4 L685.0 414.4 L687.5 414.4 L690.0 414.4 L692.5 414.3 L695.0 414.3 L697.5 414.3 L700.0 414.3 L702.6 414.3 L705.1 414.3 L707.6 414.3 L710.1 414.3 L712.6 414.3 L715.1 414.3 L717.6 414.3 L720.2 414.3 L722.7 414.3 L725.2 414.4 L727.7 414.4 L730.2 414.4 L732.7 414.4 L735.2 414.5 L737.8 414.5 L740.3 414.5 L742.8 414.6 L745.3 414.6 L747.8 414.6 L750.3 414.7 L752.8 414.7 L755.3 414.8 L757.9 414.8 L760.4 414.9 L762.9 414.9 L765.4 415.0 L767.9 415.0 L770.4 415.1 L772.9 415.1 L775.4 415.2 L778.0 415.3 L780.5 415.3 L783.0 415.4 L785.5 415.4 L788.0 415.5 L790.5 415.6 L793.0 415.6 L795.5 415.7 L798.0 415.8 L800.6 415.8 L803.1 415.9 L805.6 416.0 L808.1 416.0 L810.6 416.1 L813.1 416.2 L815.6 416.2 L818.1 416.3 L820.6 416.4 L823.2 416.4 L825.7 416.5 L828.2 416.5 L830.7 416.6 L833.2 416.7 L835.7 416.7 L838.2 416.8 L840.7 416.9 L843.3 416.9 L845.8 417.0 L848.3 417.0 L850.8 417.1 L853.3 417.1 L855.8 417.2 L858.3 417.2 L860.8 417.3 L863.3 417.3 L865.9 417.4 L868.4 417.4 L870.9 417.5 L873.4 417.5 L875.9 417.6 L878.4 417.6 L880.9 417.6 L883.4 417.7 L886.0 417.7 L888.5 417.7 L891.0 417.8 L893.5 417.8 L896.0 417.8 L898.5 417.8 L901.0 417.8 L903.5 417.9 L906.1 417.9 L908.6 417.9 L911.1 417.9 L913.6 417.9 L916.1 417.9 L918.6 417.9 L921.1 417.9 L923.6 418.0 L926.2 418.0 L928.7 418.0 L931.2 418.0 L933.7 418.0 L936.2 418.0 L938.7 418.0 L941.2 418.0 L943.7 418.0 L946.3 418.0 L948.8 418.0 L951.3 418.0 L953.8 418.0 L956.3 418.0 L958.8 418.0 L961.3 417.9 L963.9 417.9 L966.4 417.9 L968.9 417.9 L971.4 417.9 L973.9 417.9 L976.4 417.9 L978.9 417.9 L981.5 417.9 L984.0 417.9 L986.5 417.9 L989.0 417.9 L991.5 417.9 L994.0 417.9 L996.5 417.9 L999.0 417.9 L1001.6 417.9 L1004.1 417.9 L1006.6 417.9 L1009.1 417.9 L1011.6 417.8 L1014.1 417.8 L1016.6 417.8 L1019.2 417.8 L1021.7 417.9 L1024.2 417.9 L1026.7 417.9 L1029.2 417.9 L1031.7 417.9 L1034.2 417.9 L1036.8 417.9 L1039.3 417.9 L1041.8 417.9 L1044.3 417.9 L1046.8 417.9 L1049.3 417.9 L1051.8 417.9 L1054.3 417.9 L1056.9 417.9 L1059.4 417.9 L1061.9 417.9 L1064.4 417.9 L1066.9 417.9 L1069.4 417.9 L1071.9 418.0 L1074.5 418.0 L1077.0 418.0 L1079.5 418.0 L1082.0 418.0 L1084.5 418.0 L1087.0 418.0 L1089.5 418.0 L1092.1 418.0 L1094.6 418.0 L1097.1 418.1 L1099.6 418.1 L1102.1 418.1 L1104.6 418.1 L1107.1 418.1 L1109.6 418.1 L1112.2 418.1 L1114.7 418.1 L1117.2 418.2 L1119.7 418.2 L1122.2 418.2 L1124.7 418.2 L1127.2 418.2 L1129.8 418.2 L1132.3 418.2 L1134.8 418.2 L1137.3 418.3 L1139.8 418.3 L1142.3 418.3 L1144.8 418.3 L1147.4 418.3 L1149.9 418.3 L1152.4 418.3 L1154.9 418.3 L1157.4 418.4 L1159.9 418.4 L1162.4 418.4 L1164.9 418.4 L1167.5 418.4 L1170.0 418.4 L1172.5 418.4 L1175.0 418.5 L1177.5 418.5 L1180.0 418.5 L1182.5 418.5 L1185.1 418.5 L1187.6 418.5 L1190.1 418.5 L1192.6 418.5 L1195.1 418.6 L1197.6 418.6 L1200.1 418.6 L1202.6 418.6 L1205.2 418.6 L1207.7 418.6 L1210.2 418.6 L1212.7 418.6 L1215.2 418.7 L1217.7 418.7 L1220.2 418.7 L1222.8 418.7 L1225.3 418.7 L1227.8 418.7 L1230.3 418.7 L1232.8 418.7 L1235.3 418.7 L1237.8 418.7 L1240.3 418.7 L1242.9 418.8 L1245.4 418.8 L1247.9 418.8 L1250.4 418.8 L1252.9 418.8 L1255.4 418.8 L1257.9 418.8 L1260.5 418.8 L1263.0 418.8 L1265.5 418.8 L1268.0 418.8 L1270.5 418.8 L1273.0 418.8 L1275.5 418.8 L1278.0 418.8 L1280.6 418.8 L1283.1 418.8 L1285.6 418.8 L1288.1 418.8 L1290.6 418.8 L1293.1 418.8 L1295.6 418.8 L1298.2 418.8 L1300.7 418.8 L1303.2 418.8 L1305.7 418.8 L1308.2 418.8 L1310.7 418.8 L1313.2 418.8 L1315.7 418.8 L1318.3 418.8 L1320.8 418.8 L1323.3 418.8 L1325.8 418.8 L1328.3 418.8 L1330.8 418.8 L1333.3 418.8 L1335.9 418.7 L1338.4 418.7 L1340.9 418.7 L1343.4 418.7 L1345.9 418.7 L1348.4 418.7 L1350.9 418.7 L1353.4 418.7 L1356.0 418.6 L1358.5 418.6 L1361.0 418.6 L1363.5 418.6 L1366.0 418.6 L1368.5 418.5 L1371.0 418.5 L1373.5 418.5 L1376.1 418.5 L1378.6 418.5 L1381.1 418.4 L1383.6 418.4 L1386.1 418.4 L1388.6 418.4 L1391.1 418.3 L1393.6 418.3 L1396.2 418.3 L1398.7 418.2 L1401.2 418.2 L1403.7 418.2 L1406.2 418.2 L1408.7 418.1 L1411.2 418.1 L1413.8 418.1 L1416.3 418.0 L1418.8 418.0 L1421.3 417.9 L1423.8 417.9 L1426.3 417.9 L1428.8 417.8 L1431.3 417.8 L1433.9 417.7 L1436.4 417.7 L1438.9 417.6 L1441.4 417.6 L1443.9 417.6 L1446.4 417.5 L1448.9 417.5 L1451.4 417.4 L1454.0 417.4 L1456.5 417.3 L1459.0 417.2 L1461.5 417.2 L1464.0 417.1 L1466.5 417.1 L1469.0 417.0 L1471.5 417.0 L1474.1 416.9 L1476.6 416.8 L1479.1 416.8 L1481.6 416.7 L1484.1 416.6 L1486.6 416.6 L1489.1 416.5 L1491.6 416.4 L1494.2 416.4 L1496.7 416.3 L1499.2 416.2 L1501.7 416.2 L1504.2 416.1 L1506.7 416.0 L1509.2 415.9 L1511.7 415.8 L1514.3 415.8 L1516.8 415.7 L1519.3 415.6 L1521.8 415.5 L1524.3 415.4 L1526.8 415.3 L1529.3 415.3 L1531.0 415.2 L1531.0 416.5 L1528.6 416.6 L1526.2 416.6 L1523.8 416.7 L1521.4 416.7 L1519.0 416.8 L1516.6 416.9 L1514.2 416.9 L1511.7 417.0 L1509.3 417.0 L1506.9 417.1 L1504.5 417.1 L1502.1 417.2 L1499.7 417.2 L1497.3 417.3 L1494.9 417.3 L1492.5 417.4 L1490.1 417.4 L1487.7 417.5 L1485.3 417.5 L1482.9 417.6 L1480.5 417.6 L1478.1 417.7 L1475.6 417.7 L1473.2 417.8 L1470.8 417.8 L1468.4 417.9 L1466.0 417.9 L1463.6 418.0 L1461.2 418.0 L1458.8 418.0 L1456.4 418.1 L1454.0 418.1 L1451.6 418.2 L1449.2 418.2 L1446.8 418.2 L1444.4 418.3 L1441.9 418.3 L1439.5 418.4 L1437.1 418.4 L1434.7 418.4 L1432.3 418.5 L1429.9 418.5 L1427.5 418.5 L1425.1 418.6 L1422.7 418.6 L1420.3 418.6 L1417.9 418.7 L1415.5 418.7 L1413.1 418.7 L1410.7 418.8 L1408.2 418.8 L1405.8 418.8 L1403.4 418.9 L1401.0 418.9 L1398.6 418.9 L1396.2 418.9 L1393.8 419.0 L1391.4 419.0 L1389.0 419.0 L1386.6 419.1 L1384.2 419.1 L1381.8 419.1 L1379.4 419.1 L1377.0 419.2 L1374.5 419.2 L1372.1 419.2 L1369.7 419.2 L1367.3 419.3 L1364.9 419.3 L1362.5 419.3 L1360.1 419.3 L1357.7 419.3 L1355.3 419.4 L1352.9 419.4 L1350.5 419.4 L1348.1 419.4 L1345.7 419.4 L1343.3 419.5 L1340.8 419.5 L1338.4 419.5 L1336.0 419.5 L1333.6 419.5 L1331.2 419.5 L1328.8 419.6 L1326.4 419.6 L1324.0 419.6 L1321.6 419.6 L1319.2 419.6 L1316.8 419.6 L1314.4 419.7 L1312.0 419.7 L1309.6 419.7 L1307.1 419.7 L1304.7 419.7 L1302.3 419.7 L1299.9 419.7 L1297.5 419.8 L1295.1 419.8 L1292.7 419.8 L1290.3 419.8 L1287.9 419.8 L1285.5 419.8 L1283.1 419.8 L1280.7 419.8 L1278.3 419.8 L1275.9 419.9 L1273.4 419.9 L1271.0 419.9 L1268.6 419.9 L1266.2 419.9 L1263.8 419.9 L1261.4 419.9 L1259.0 419.9 L1256.6 419.9 L1254.2 419.9 L1251.8 419.9 L1249.4 419.9 L1247.0 420.0 L1244.6 420.0 L1242.2 420.0 L1239.7 420.0 L1237.3 420.0 L1234.9 420.0 L1232.5 420.0 L1230.1 420.0 L1227.7 420.0 L1225.3 420.0 L1222.9 420.0 L1220.5 420.0 L1218.1 420.0 L1215.7 420.0 L1213.3 420.0 L1210.9 420.0 L1208.4 420.0 L1206.0 420.0 L1203.6 420.0 L1201.2 420.0 L1198.8 420.0 L1196.4 420.1 L1194.0 420.1 L1191.6 420.1 L1189.2 420.1 L1186.8 420.1 L1184.4 420.1 L1182.0 420.1 L1179.6 420.1 L1177.2 420.1 L1174.7 420.1 L1172.3 420.1 L1169.9 420.1 L1167.5 420.1 L1165.1 420.1 L1162.7 420.1 L1160.3 420.1 L1157.9 420.1 L1155.5 420.1 L1153.1 420.1 L1150.7 420.1 L1148.3 420.1 L1145.9 420.1 L1143.4 420.1 L1141.0 420.1 L1138.6 420.1 L1136.2 420.1 L1133.8 420.1 L1131.4 420.1 L1129.0 420.1 L1126.6 420.1 L1124.2 420.1 L1121.8 420.1 L1119.4 420.1 L1117.0 420.1 L1114.6 420.1 L1112.2 420.1 L1109.7 420.1 L1107.3 420.1 L1104.9 420.1 L1102.5 420.1 L1100.1 420.1 L1097.7 420.1 L1095.3 420.1 L1092.9 420.1 L1090.5 420.1 L1088.1 420.1 L1085.7 420.1 L1083.3 420.1 L1080.9 420.1 L1078.4 420.1 L1076.0 420.1 L1073.6 420.1 L1071.2 420.1 L1068.8 420.1 L1066.4 420.1 L1064.0 420.1 L1061.6 420.1 L1059.2 420.1 L1056.8 420.1 L1054.4 420.1 L1052.0 420.1 L1049.6 420.1 L1047.2 420.2 L1044.7 420.2 L1042.3 420.2 L1039.9 420.2 L1037.5 420.2 L1035.1 420.2 L1032.7 420.2 L1030.3 420.2 L1027.9 420.2 L1025.5 420.2 L1023.1 420.2 L1020.7 420.2 L1018.3 420.2 L1015.9 420.2 L1013.5 420.2 L1011.0 420.2 L1008.6 420.2 L1006.2 420.2 L1003.8 420.2 L1001.4 420.2 L999.0 420.2 L996.6 420.2 L994.2 420.2 L991.8 420.3 L989.4 420.3 L987.0 420.3 L984.6 420.3 L982.2 420.3 L979.7 420.3 L977.3 420.3 L974.9 420.3 L972.5 420.3 L970.1 420.3 L967.7 420.3 L965.3 420.3 L962.9 420.3 L960.5 420.4 L958.1 420.4 L955.7 420.4 L953.3 420.4 L950.9 420.4 L948.5 420.4 L946.0 420.4 L943.6 420.4 L941.2 420.4 L938.8 420.5 L936.4 420.5 L934.0 420.5 L931.6 420.5 L929.2 420.5 L926.8 420.5 L924.4 420.5 L922.0 420.5 L919.6 420.6 L917.2 420.6 L914.8 420.6 L912.3 420.6 L909.9 420.6 L907.5 420.6 L905.1 420.7 L902.7 420.7 L900.3 420.7 L897.9 420.7 L895.5 420.7 L893.1 420.7 L890.7 420.8 L888.3 420.8 L885.9 420.8 L883.5 420.8 L881.1 420.8 L878.6 420.9 L876.2 420.9 L873.8 420.9 L871.4 420.9 L869.0 420.9 L866.6 421.0 L864.2 421.0 L861.8 421.0 L859.4 421.0 L857.0 421.1 L854.6 421.1 L852.2 421.1 L849.8 421.1 L847.4 421.2 L844.9 421.2 L842.5 421.2 L840.1 421.2 L837.7 421.3 L835.3 421.3 L832.9 421.3 L830.5 421.4 L828.1 421.4 L825.7 421.4 L823.3 421.5 L820.9 421.5 L818.5 421.5 L816.1 421.5 L813.7 421.6 L811.2 421.6 L808.8 421.6 L806.4 421.7 L804.0 421.7 L801.6 421.8 L799.2 421.8 L796.8 421.8 L794.4 421.9 L792.0 421.9 L789.6 421.9 L787.2 422.0 L784.8 422.0 L782.4 422.1 L780.0 422.1 L777.6 422.1 L775.1 422.2 L772.7 422.2 L770.3 422.3 L767.9 422.3 L765.5 422.4 L763.1 422.4 L760.7 422.5 L758.3 422.5 L755.9 422.6 L753.5 422.6 L751.1 422.7 L748.7 422.7 L746.3 422.8 L743.9 422.8 L741.5 422.9 L739.0 422.9 L736.6 423.0 L734.2 423.0 L731.8 423.1 L729.4 423.1 L727.0 423.2 L724.6 423.3 L722.2 423.3 L719.8 423.4 L717.4 423.5 L715.0 423.5 L712.6 423.6 L710.2 423.7 L707.8 423.7 L705.4 423.8 L702.9 423.9 L700.5 423.9 L698.1 424.0 L695.7 424.1 L693.3 424.2 L690.9 424.2 L688.5 424.3 L686.1 424.4 L683.7 424.5 L681.3 424.6 L678.9 424.7 L676.5 424.7 L674.1 424.8 L671.7 424.9 L669.3 425.0 L666.9 425.1 L664.5 425.2 L662.0 425.3 L659.6 425.4 L657.2 425.5 L654.8 425.6 L652.4 425.7 L650.0 425.8 L647.6 425.9 L645.2 426.0 L642.8 426.1 L640.4 426.2 L638.0 426.3 L635.6 426.5 L633.2 426.6 L630.8 426.7 L628.4 426.8 L626.0 426.9 L623.6 427.1 L621.2 427.2 L618.8 427.3 L616.4 427.4 L613.9 427.6 L611.5 427.7 L609.1 427.8 L606.7 428.0 L604.3 428.1 L601.9 428.2 L599.5 428.4 L597.1 428.5 L594.7 428.7 L592.3 428.8 L589.9 429.0 L587.5 429.1 L585.1 429.3 L582.7 429.5 L580.3 429.7 L577.9 429.9 L575.5 430.1 L573.1 430.3 L570.7 430.6 L568.3 430.8 L566.0 431.1 L563.6 431.4 L561.2 431.7 L558.8 432.0 L556.5 432.4 L554.1 432.8 L551.7 433.1 L549.4 433.6 L547.0 434.0 L544.7 434.5 L542.3 435.0 L540.0 435.5 L537.6 436.1 L535.3 436.6 L533.0 437.3 L530.7 437.9 L528.3 438.6 L526.0 439.3 L523.7 440.0 L521.4 440.7 L519.2 441.5 L516.9 442.3 L514.6 443.1 L512.3 443.9 L510.1 444.8 L507.8 445.7 L505.6 446.6 L503.3 447.5 L501.1 448.4 L498.9 449.4 L496.7 450.4 L494.5 451.4 L492.3 452.4 L490.1 453.4 L487.9 454.5 L485.7 455.5 L483.6 456.6 L481.4 457.7 L479.3 458.9 L477.2 460.0 L475.1 461.2 L473.1 462.4 L471.0 463.7 L469.0 464.9 L467.0 466.3 L465.0 467.6 L463.0 469.0 L461.1 470.4 L459.2 471.8 L457.3 473.3 L455.5 474.8 L453.7 476.4 L451.9 477.9 L450.1 479.6 L448.4 481.2 L446.7 482.9 L445.0 484.6 L443.4 486.3 L441.8 488.1 L440.2 489.9 L438.7 491.7 L437.1 493.6 L435.6 495.4 L434.2 497.3 L432.7 499.2 L431.3 501.2 L429.9 503.1 L428.5 505.1 L427.2 507.1 L425.8 509.0 L424.5 511.1 L423.2 513.1 L421.9 515.1 L420.6 517.2 L419.4 519.3 L418.1 521.3 L416.9 523.4 L415.7 525.5 L414.4 527.6 L413.2 529.7 L412.0 531.8 L410.9 533.9 L409.7 536.1 L408.5 538.2 L407.3 540.3 L406.2 542.4 L405.0 544.6 L403.8 546.7 L402.7 548.8 L401.5 550.9 L400.3 553.0 L399.2 555.1 L398.0 557.2 L396.8 559.3 L395.6 561.4 L394.4 563.5 L393.2 565.5 L392.0 567.6 L390.8 569.6 L390.0 571.0 Z" stroke="#000080"/>
</g>
<g stroke="#000" stroke-width="4.6" fill="none">
<line x1="247.7" y1="41.5" x2="247.7" y2="1077.3"/>
<line x1="247.7" y1="1075" x2="1531" y2="1075"/>
<line x1="226" y1="185.00" x2="247.70" y2="185.00"/>
<line x1="226" y1="419.50" x2="247.70" y2="419.50"/>
<line x1="226" y1="654.00" x2="247.70" y2="654.00"/>
<line x1="226" y1="888.50" x2="247.70" y2="888.50"/>
<line x1="237" y1="67.75" x2="247.70" y2="67.75"/>
<line x1="237" y1="302.25" x2="247.70" y2="302.25"/>
<line x1="237" y1="536.75" x2="247.70" y2="536.75"/>
<line x1="237" y1="771.25" x2="247.70" y2="771.25"/>
<line x1="237" y1="1005.75" x2="247.70" y2="1005.75"/>
<line x1="390.50" y1="1075.00" x2="390.50" y2="1096"/>
<line x1="675.00" y1="1075.00" x2="675.00" y2="1096"/>
<line x1="959.50" y1="1075.00" x2="959.50" y2="1096"/>
<line x1="1244.00" y1="1075.00" x2="1244.00" y2="1096"/>
<line x1="1528.50" y1="1075.00" x2="1528.50" y2="1096"/>
<line x1="532.75" y1="1075.00" x2="532.75" y2="1085.5"/>
<line x1="817.25" y1="1075.00" x2="817.25" y2="1085.5"/>
<line x1="1101.75" y1="1075.00" x2="1101.75" y2="1085.5"/>
<line x1="1386.25" y1="1075.00" x2="1386.25" y2="1085.5"/>
<line x1="247.70" y1="1075.00" x2="247.70" y2="1085.5"/>
</g>
<g class="tl" font-size="45">
<text x="213.5" y="197.8" text-anchor="end">0.5</text>
<text x="213.5" y="432.3" text-anchor="end">0.0</text>
<text x="213.5" y="666.8" text-anchor="end">-0.5</text>
<text x="213.5" y="901.3" text-anchor="end">-1.0</text>
<text x="389.5" y="1144" text-anchor="middle">-1.0</text>
<text x="674.0" y="1144" text-anchor="middle">-0.5</text>
<text x="958.5" y="1144" text-anchor="middle">0.0</text>
<text x="1243.0" y="1144" text-anchor="middle">0.5</text>
<text x="1527.5" y="1144" text-anchor="middle">1.0</text>
</g>
<text x="694.1" y="1225.4" font-size="53.6" letter-spacing="0.2">E(V) vs Ag/AgCl</text>
<text transform="translate(76.7,596.1) rotate(-90) scale(1.04,1)" font-size="53">I(μA)</text>
<text x="412" y="135.5" font-size="95" style="font-family:'Liberation Serif',serif">I</text>
<text transform="translate(443.3,158.9) scale(0.95,1)" font-size="60">a</text>
<text x="361" y="978.3" font-size="95" style="font-family:'Liberation Serif',serif">I</text>
<text transform="translate(391.1,1000.6) scale(1.07,1)" font-size="61">c</text>
<g>
<line x1="717.5" y1="625.60" x2="805.5" y2="625.60" stroke="#000000" stroke-width="7"/>
<text y="637.20" x="811.06 833.29 843.22" font-size="37.5">TiO</text>
<text y="647.60" x="869.79" font-size="28.0">2</text>
<line x1="717.5" y1="678.75" x2="805.5" y2="678.75" stroke="#ff0000" stroke-width="7"/>
<text y="690.35" x="811.06 833.29 843.22" font-size="37.5">TiO</text>
<text y="700.75" x="869.79" font-size="28.0">2</text>
<text y="690.35" x="894.74 913.58 926.44 945.70 966.55 976.65 1003.23 1013.65 1023.96" font-size="37.5" xml:space="preserve">0.05 wt %</text>
<line x1="717.5" y1="731.90" x2="805.5" y2="731.90" stroke="#0000ff" stroke-width="7"/>
<text y="743.50" x="811.06 833.29 843.22" font-size="37.5">TiO</text>
<text y="753.90" x="869.79" font-size="28.0">2</text>
<text y="743.50" x="894.54 913.58 927.04 947.90 956.45 983.73 994.15 1003.26" font-size="37.5" xml:space="preserve">0.1 wt %</text>
<line x1="717.5" y1="785.05" x2="805.5" y2="785.05" stroke="#ff00ff" stroke-width="7"/>
<text y="796.65" x="811.06 833.29 843.22" font-size="37.5">TiO</text>
<text y="807.05" x="869.79" font-size="28.0">2</text>
<text y="796.65" x="894.54 913.58 926.37 947.23 956.45 983.73 994.15 1003.26" font-size="37.5" xml:space="preserve">0.3 wt %</text>
<line x1="717.5" y1="838.20" x2="805.5" y2="838.20" stroke="#008000" stroke-width="7"/>
<text y="849.80" x="811.06 833.29 843.22" font-size="37.5">TiO</text>
<text y="860.20" x="869.79" font-size="28.0">2</text>
<text y="849.80" x="894.54 913.58 926.08 946.93 956.45 983.73 994.15 1003.26" font-size="37.5" xml:space="preserve">0.7 wt %</text>
<line x1="717.5" y1="891.35" x2="805.5" y2="891.35" stroke="#000080" stroke-width="7"/>
<text y="902.95" x="811.06 833.29 843.22" font-size="37.5">TiO</text>
<text y="913.35" x="869.79" font-size="28.0">2</text>
<text y="902.95" x="895.34 913.58 926.24 947.09 956.45 983.73 994.15 1003.26" font-size="37.5" xml:space="preserve">1.0 wt %</text>
</g>
</svg>
</body></html>
